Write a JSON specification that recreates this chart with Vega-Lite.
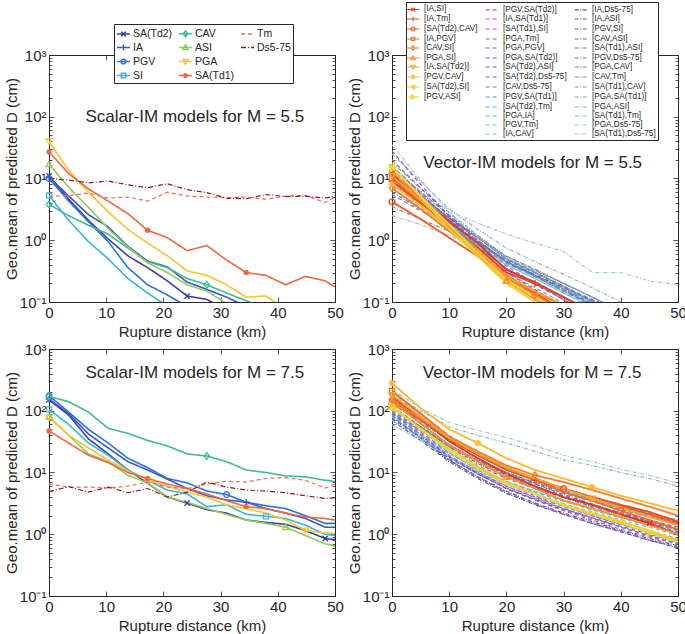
{
"$schema":"https://vega.github.io/schema/vega-lite/v6.json",
"padding":{"left":3,"top":1,"right":5,"bottom":5},
"config":{"font":"Liberation Sans","view":{"stroke":"#262626","strokeWidth":1},
"axis":{"labelFont":"Liberation Sans","titleFont":"Liberation Sans","labelColor":"#262626","titleColor":"#262626","titleFontWeight":"normal","labelFontSize":15,"titleFontSize":15,"tickColor":"#262626","domainColor":"#262626","grid":false,"labelFlush":false,"labelOverlap":false,"tickWidth":0.8}},
"columns":2,"spacing":{"row":47,"column":57},"bounds":"flush",
"resolve":{"scale":{"color":"independent","shape":"independent","strokeDash":"independent"},"legend":{"color":"independent","shape":"independent","strokeDash":"independent"}},
"datasets":{
"s55":[
{"s":"SA(Td2)","x":0,"y":11},{"s":"SA(Td2)","x":3.45,"y":4.6},{"s":"SA(Td2)","x":6.9,"y":2.1},{"s":"SA(Td2)","x":10.34,"y":1.05},{"s":"SA(Td2)","x":13.79,"y":0.56},{"s":"SA(Td2)","x":17.24,"y":0.36},{"s":"SA(Td2)","x":20.69,"y":0.22},{"s":"SA(Td2)","x":24.14,"y":0.125},{"s":"SA(Td2)","x":27.59,"y":0.11},{"s":"SA(Td2)","x":31.03,"y":0.075},{"s":"SA(Td2)","x":34.48,"y":0.055},{"s":"SA(Td2)","x":37.93,"y":0.04},{"s":"SA(Td2)","x":41.38,"y":0.03},{"s":"SA(Td2)","x":44.83,"y":0.022},{"s":"SA(Td2)","x":48.28,"y":0.017},{"s":"SA(Td2)","x":51.72,"y":0.013},
{"s":"IA","x":0,"y":10.5},{"s":"IA","x":3.45,"y":5.2},{"s":"IA","x":6.9,"y":2.6},{"s":"IA","x":10.34,"y":1.65},{"s":"IA","x":13.79,"y":0.8},{"s":"IA","x":17.24,"y":0.46},{"s":"IA","x":20.69,"y":0.37},{"s":"IA","x":24.14,"y":0.21},{"s":"IA","x":27.59,"y":0.16},{"s":"IA","x":31.03,"y":0.12},{"s":"IA","x":34.48,"y":0.085},{"s":"IA","x":37.93,"y":0.06},{"s":"IA","x":41.38,"y":0.045},{"s":"IA","x":44.83,"y":0.035},{"s":"IA","x":48.28,"y":0.026},{"s":"IA","x":51.72,"y":0.02},
{"s":"PGV","x":0,"y":10},{"s":"PGV","x":3.45,"y":4.3},{"s":"PGV","x":6.9,"y":2.0},{"s":"PGV","x":10.34,"y":0.95},{"s":"PGV","x":13.79,"y":0.36},{"s":"PGV","x":17.24,"y":0.19},{"s":"PGV","x":20.69,"y":0.13},{"s":"PGV","x":24.14,"y":0.085},{"s":"PGV","x":27.59,"y":0.06},{"s":"PGV","x":31.03,"y":0.045},{"s":"PGV","x":34.48,"y":0.032},{"s":"PGV","x":37.93,"y":0.023},{"s":"PGV","x":41.38,"y":0.017},{"s":"PGV","x":44.83,"y":0.012},{"s":"PGV","x":48.28,"y":0.009},{"s":"PGV","x":51.72,"y":0.007},
{"s":"SI","x":0,"y":5.3},{"s":"SI","x":3.45,"y":2.1},{"s":"SI","x":6.9,"y":0.95},{"s":"SI","x":10.34,"y":0.5},{"s":"SI","x":13.79,"y":0.24},{"s":"SI","x":17.24,"y":0.14},{"s":"SI","x":20.69,"y":0.085},{"s":"SI","x":24.14,"y":0.055},{"s":"SI","x":27.59,"y":0.038},{"s":"SI","x":31.03,"y":0.027},{"s":"SI","x":34.48,"y":0.019},{"s":"SI","x":37.93,"y":0.014},{"s":"SI","x":41.38,"y":0.01},{"s":"SI","x":44.83,"y":0.008},{"s":"SI","x":48.28,"y":0.006},{"s":"SI","x":51.72,"y":0.005},
{"s":"CAV","x":0,"y":3.8},{"s":"CAV","x":3.45,"y":2.5},{"s":"CAV","x":6.9,"y":1.75},{"s":"CAV","x":10.34,"y":1.25},{"s":"CAV","x":13.79,"y":0.75},{"s":"CAV","x":17.24,"y":0.45},{"s":"CAV","x":20.69,"y":0.36},{"s":"CAV","x":24.14,"y":0.24},{"s":"CAV","x":27.59,"y":0.19},{"s":"CAV","x":31.03,"y":0.14},{"s":"CAV","x":34.48,"y":0.105},{"s":"CAV","x":37.93,"y":0.075},{"s":"CAV","x":41.38,"y":0.055},{"s":"CAV","x":44.83,"y":0.04},{"s":"CAV","x":48.28,"y":0.03},{"s":"CAV","x":51.72,"y":0.022},
{"s":"ASI","x":0,"y":17},{"s":"ASI","x":3.45,"y":7.2},{"s":"ASI","x":6.9,"y":3.4},{"s":"ASI","x":10.34,"y":1.55},{"s":"ASI","x":13.79,"y":0.78},{"s":"ASI","x":17.24,"y":0.43},{"s":"ASI","x":20.69,"y":0.3},{"s":"ASI","x":24.14,"y":0.19},{"s":"ASI","x":27.59,"y":0.15},{"s":"ASI","x":31.03,"y":0.095},{"s":"ASI","x":34.48,"y":0.07},{"s":"ASI","x":37.93,"y":0.05},{"s":"ASI","x":41.38,"y":0.038},{"s":"ASI","x":44.83,"y":0.028},{"s":"ASI","x":48.28,"y":0.02},{"s":"ASI","x":51.72,"y":0.015},
{"s":"PGA","x":0,"y":40},{"s":"PGA","x":3.45,"y":13.5},{"s":"PGA","x":6.9,"y":6.0},{"s":"PGA","x":10.34,"y":2.9},{"s":"PGA","x":13.79,"y":1.5},{"s":"PGA","x":17.24,"y":0.9},{"s":"PGA","x":20.69,"y":0.56},{"s":"PGA","x":24.14,"y":0.32},{"s":"PGA","x":27.59,"y":0.27},{"s":"PGA","x":31.03,"y":0.19},{"s":"PGA","x":34.48,"y":0.12},{"s":"PGA","x":37.93,"y":0.125},{"s":"PGA","x":41.38,"y":0.075},{"s":"PGA","x":44.83,"y":0.055},{"s":"PGA","x":48.28,"y":0.04},{"s":"PGA","x":51.72,"y":0.03},
{"s":"SA(Td1)","x":0,"y":27},{"s":"SA(Td1)","x":3.45,"y":12},{"s":"SA(Td1)","x":6.9,"y":6.8},{"s":"SA(Td1)","x":10.34,"y":4.3},{"s":"SA(Td1)","x":13.79,"y":2.7},{"s":"SA(Td1)","x":17.24,"y":1.45},{"s":"SA(Td1)","x":20.69,"y":1.1},{"s":"SA(Td1)","x":24.14,"y":0.68},{"s":"SA(Td1)","x":27.59,"y":0.82},{"s":"SA(Td1)","x":31.03,"y":0.48},{"s":"SA(Td1)","x":34.48,"y":0.3},{"s":"SA(Td1)","x":37.93,"y":0.27},{"s":"SA(Td1)","x":41.38,"y":0.19},{"s":"SA(Td1)","x":44.83,"y":0.26},{"s":"SA(Td1)","x":48.28,"y":0.22},{"s":"SA(Td1)","x":51.72,"y":0.14},
{"s":"Tm","x":0,"y":5.1},{"s":"Tm","x":3.45,"y":5.3},{"s":"Tm","x":6.9,"y":5.8},{"s":"Tm","x":10.34,"y":4.8},{"s":"Tm","x":13.79,"y":5.0},{"s":"Tm","x":17.24,"y":4.3},{"s":"Tm","x":20.69,"y":6.0},{"s":"Tm","x":24.14,"y":5.2},{"s":"Tm","x":27.59,"y":5.0},{"s":"Tm","x":31.03,"y":4.9},{"s":"Tm","x":34.48,"y":5.0},{"s":"Tm","x":37.93,"y":4.6},{"s":"Tm","x":41.38,"y":5.2},{"s":"Tm","x":44.83,"y":5.3},{"s":"Tm","x":48.28,"y":4.1},{"s":"Tm","x":51.72,"y":6.0},
{"s":"Ds5-75","x":0,"y":10},{"s":"Ds5-75","x":3.45,"y":9.4},{"s":"Ds5-75","x":6.9,"y":8.5},{"s":"Ds5-75","x":10.34,"y":9.1},{"s":"Ds5-75","x":13.79,"y":7.9},{"s":"Ds5-75","x":17.24,"y":7.1},{"s":"Ds5-75","x":20.69,"y":8.2},{"s":"Ds5-75","x":24.14,"y":6.6},{"s":"Ds5-75","x":27.59,"y":5.9},{"s":"Ds5-75","x":31.03,"y":4.8},{"s":"Ds5-75","x":34.48,"y":4.7},{"s":"Ds5-75","x":37.93,"y":5.5},{"s":"Ds5-75","x":41.38,"y":5.1},{"s":"Ds5-75","x":44.83,"y":5.2},{"s":"Ds5-75","x":48.28,"y":4.8},{"s":"Ds5-75","x":51.72,"y":5.6}
],
"s75":[
{"s":"SA(Td2)","x":0,"y":150},{"s":"SA(Td2)","x":3.45,"y":85},{"s":"SA(Td2)","x":6.9,"y":35},{"s":"SA(Td2)","x":10.34,"y":20},{"s":"SA(Td2)","x":13.79,"y":11},{"s":"SA(Td2)","x":17.24,"y":6.7},{"s":"SA(Td2)","x":20.69,"y":4.0},{"s":"SA(Td2)","x":24.14,"y":3.2},{"s":"SA(Td2)","x":27.59,"y":2.5},{"s":"SA(Td2)","x":31.03,"y":2.2},{"s":"SA(Td2)","x":34.48,"y":1.7},{"s":"SA(Td2)","x":37.93,"y":1.55},{"s":"SA(Td2)","x":41.38,"y":1.45},{"s":"SA(Td2)","x":44.83,"y":1.15},{"s":"SA(Td2)","x":48.28,"y":0.85},{"s":"SA(Td2)","x":51.72,"y":0.8},
{"s":"IA","x":0,"y":155},{"s":"IA","x":3.45,"y":90},{"s":"IA","x":6.9,"y":42},{"s":"IA","x":10.34,"y":25},{"s":"IA","x":13.79,"y":15},{"s":"IA","x":17.24,"y":11},{"s":"IA","x":20.69,"y":7.8},{"s":"IA","x":24.14,"y":5.5},{"s":"IA","x":27.59,"y":4.2},{"s":"IA","x":31.03,"y":3.6},{"s":"IA","x":34.48,"y":3.3},{"s":"IA","x":37.93,"y":2.6},{"s":"IA","x":41.38,"y":2.2},{"s":"IA","x":44.83,"y":1.8},{"s":"IA","x":48.28,"y":1.3},{"s":"IA","x":51.72,"y":1.3},
{"s":"PGV","x":0,"y":175},{"s":"PGV","x":3.45,"y":95},{"s":"PGV","x":6.9,"y":50},{"s":"PGV","x":10.34,"y":30},{"s":"PGV","x":13.79,"y":17},{"s":"PGV","x":17.24,"y":12},{"s":"PGV","x":20.69,"y":8.0},{"s":"PGV","x":24.14,"y":6.8},{"s":"PGV","x":27.59,"y":5.0},{"s":"PGV","x":31.03,"y":4.4},{"s":"PGV","x":34.48,"y":3.3},{"s":"PGV","x":37.93,"y":2.9},{"s":"PGV","x":41.38,"y":2.6},{"s":"PGV","x":44.83,"y":2.0},{"s":"PGV","x":48.28,"y":1.5},{"s":"PGV","x":51.72,"y":1.5},
{"s":"SI","x":0,"y":105},{"s":"SI","x":3.45,"y":60},{"s":"SI","x":6.9,"y":30},{"s":"SI","x":10.34,"y":19},{"s":"SI","x":13.79,"y":11},{"s":"SI","x":17.24,"y":7.5},{"s":"SI","x":20.69,"y":5.2},{"s":"SI","x":24.14,"y":4.5},{"s":"SI","x":27.59,"y":2.8},{"s":"SI","x":31.03,"y":3.0},{"s":"SI","x":34.48,"y":2.1},{"s":"SI","x":37.93,"y":1.95},{"s":"SI","x":41.38,"y":1.8},{"s":"SI","x":44.83,"y":1.4},{"s":"SI","x":48.28,"y":1.0},{"s":"SI","x":51.72,"y":0.9},
{"s":"CAV","x":0,"y":170},{"s":"CAV","x":3.45,"y":140},{"s":"CAV","x":6.9,"y":95},{"s":"CAV","x":10.34,"y":52},{"s":"CAV","x":13.79,"y":43},{"s":"CAV","x":17.24,"y":33},{"s":"CAV","x":20.69,"y":27},{"s":"CAV","x":24.14,"y":20},{"s":"CAV","x":27.59,"y":18.5},{"s":"CAV","x":31.03,"y":15},{"s":"CAV","x":34.48,"y":11},{"s":"CAV","x":37.93,"y":10},{"s":"CAV","x":41.38,"y":8.8},{"s":"CAV","x":44.83,"y":8.5},{"s":"CAV","x":48.28,"y":7.5},{"s":"CAV","x":51.72,"y":6.8},
{"s":"ASI","x":0,"y":80},{"s":"ASI","x":3.45,"y":40},{"s":"ASI","x":6.9,"y":20},{"s":"ASI","x":10.34,"y":15},{"s":"ASI","x":13.79,"y":9},{"s":"ASI","x":17.24,"y":6.8},{"s":"ASI","x":20.69,"y":4.0},{"s":"ASI","x":24.14,"y":3.3},{"s":"ASI","x":27.59,"y":2.6},{"s":"ASI","x":31.03,"y":2.1},{"s":"ASI","x":34.48,"y":1.7},{"s":"ASI","x":37.93,"y":1.5},{"s":"ASI","x":41.38,"y":1.3},{"s":"ASI","x":44.83,"y":0.95},{"s":"ASI","x":48.28,"y":0.7},{"s":"ASI","x":51.72,"y":0.6},
{"s":"PGA","x":0,"y":78},{"s":"PGA","x":3.45,"y":40},{"s":"PGA","x":6.9,"y":25},{"s":"PGA","x":10.34,"y":16},{"s":"PGA","x":13.79,"y":10.5},{"s":"PGA","x":17.24,"y":7.5},{"s":"PGA","x":20.69,"y":6.0},{"s":"PGA","x":24.14,"y":4.8},{"s":"PGA","x":27.59,"y":4.0},{"s":"PGA","x":31.03,"y":3.0},{"s":"PGA","x":34.48,"y":2.6},{"s":"PGA","x":37.93,"y":2.2},{"s":"PGA","x":41.38,"y":1.7},{"s":"PGA","x":44.83,"y":1.15},{"s":"PGA","x":48.28,"y":1.05},{"s":"PGA","x":51.72,"y":1.0},
{"s":"SA(Td1)","x":0,"y":47},{"s":"SA(Td1)","x":3.45,"y":30},{"s":"SA(Td1)","x":6.9,"y":19},{"s":"SA(Td1)","x":10.34,"y":14.5},{"s":"SA(Td1)","x":13.79,"y":10},{"s":"SA(Td1)","x":17.24,"y":8},{"s":"SA(Td1)","x":20.69,"y":6.5},{"s":"SA(Td1)","x":24.14,"y":5.5},{"s":"SA(Td1)","x":27.59,"y":4.5},{"s":"SA(Td1)","x":31.03,"y":3.5},{"s":"SA(Td1)","x":34.48,"y":2.8},{"s":"SA(Td1)","x":37.93,"y":2.6},{"s":"SA(Td1)","x":41.38,"y":2.2},{"s":"SA(Td1)","x":44.83,"y":1.9},{"s":"SA(Td1)","x":48.28,"y":1.8},{"s":"SA(Td1)","x":51.72,"y":1.6},
{"s":"Tm","x":0,"y":6.5},{"s":"Tm","x":3.45,"y":5.8},{"s":"Tm","x":6.9,"y":5.8},{"s":"Tm","x":10.34,"y":5.6},{"s":"Tm","x":13.79,"y":6.0},{"s":"Tm","x":17.24,"y":7.0},{"s":"Tm","x":20.69,"y":5.8},{"s":"Tm","x":24.14,"y":5.5},{"s":"Tm","x":27.59,"y":6.5},{"s":"Tm","x":31.03,"y":7.2},{"s":"Tm","x":34.48,"y":7.0},{"s":"Tm","x":37.93,"y":8.0},{"s":"Tm","x":41.38,"y":8.3},{"s":"Tm","x":44.83,"y":7.5},{"s":"Tm","x":48.28,"y":5.6},{"s":"Tm","x":51.72,"y":7.5},
{"s":"Ds5-75","x":0,"y":4.9},{"s":"Ds5-75","x":3.45,"y":5.9},{"s":"Ds5-75","x":6.9,"y":4.8},{"s":"Ds5-75","x":10.34,"y":5.8},{"s":"Ds5-75","x":13.79,"y":4.7},{"s":"Ds5-75","x":17.24,"y":5.5},{"s":"Ds5-75","x":20.69,"y":4.0},{"s":"Ds5-75","x":24.14,"y":4.8},{"s":"Ds5-75","x":27.59,"y":7.0},{"s":"Ds5-75","x":31.03,"y":5.8},{"s":"Ds5-75","x":34.48,"y":5.2},{"s":"Ds5-75","x":37.93,"y":5.0},{"s":"Ds5-75","x":41.38,"y":4.7},{"s":"Ds5-75","x":44.83,"y":4.2},{"s":"Ds5-75","x":48.28,"y":3.8},{"s":"Ds5-75","x":51.72,"y":4.0}
],
"v55":[
{"s":"[IA,Ds5-75]","x":0,"y":10},{"s":"[IA,Ds5-75]","x":5,"y":5.0},{"s":"[IA,Ds5-75]","x":10,"y":2.3},{"s":"[IA,Ds5-75]","x":15,"y":1.1},{"s":"[IA,Ds5-75]","x":20,"y":0.5},{"s":"[IA,Ds5-75]","x":25,"y":0.3},{"s":"[IA,Ds5-75]","x":30,"y":0.18},{"s":"[IA,Ds5-75]","x":35,"y":0.1},{"s":"[IA,Ds5-75]","x":40,"y":0.06},{"s":"[IA,Ds5-75]","x":45,"y":0.035},{"s":"[IA,Ds5-75]","x":50,"y":0.02},
{"s":"[IA,ASI]","x":0,"y":12},{"s":"[IA,ASI]","x":5,"y":5.4},{"s":"[IA,ASI]","x":10,"y":2.3},{"s":"[IA,ASI]","x":15,"y":1.0},{"s":"[IA,ASI]","x":20,"y":0.45},{"s":"[IA,ASI]","x":25,"y":0.27},{"s":"[IA,ASI]","x":30,"y":0.16},{"s":"[IA,ASI]","x":35,"y":0.09},{"s":"[IA,ASI]","x":40,"y":0.05},{"s":"[IA,ASI]","x":45,"y":0.03},{"s":"[IA,ASI]","x":50,"y":0.018},
{"s":"[PGV,SI]","x":0,"y":8},{"s":"[PGV,SI]","x":5,"y":3.9},{"s":"[PGV,SI]","x":10,"y":1.9},{"s":"[PGV,SI]","x":15,"y":0.92},{"s":"[PGV,SI]","x":20,"y":0.44},{"s":"[PGV,SI]","x":25,"y":0.26},{"s":"[PGV,SI]","x":30,"y":0.15},{"s":"[PGV,SI]","x":35,"y":0.088},{"s":"[PGV,SI]","x":40,"y":0.05},{"s":"[PGV,SI]","x":45,"y":0.03},{"s":"[PGV,SI]","x":50,"y":0.017},
{"s":"[CAV,ASI]","x":0,"y":6},{"s":"[CAV,ASI]","x":5,"y":3.2},{"s":"[CAV,ASI]","x":10,"y":1.7},{"s":"[CAV,ASI]","x":15,"y":0.9},{"s":"[CAV,ASI]","x":20,"y":0.46},{"s":"[CAV,ASI]","x":25,"y":0.28},{"s":"[CAV,ASI]","x":30,"y":0.17},{"s":"[CAV,ASI]","x":35,"y":0.1},{"s":"[CAV,ASI]","x":40,"y":0.06},{"s":"[CAV,ASI]","x":45,"y":0.035},{"s":"[CAV,ASI]","x":50,"y":0.021},
{"s":"[SA(Td1),ASI]","x":0,"y":14},{"s":"[SA(Td1),ASI]","x":5,"y":6.0},{"s":"[SA(Td1),ASI]","x":10,"y":2.5},{"s":"[SA(Td1),ASI]","x":15,"y":1.1},{"s":"[SA(Td1),ASI]","x":20,"y":0.5},{"s":"[SA(Td1),ASI]","x":25,"y":0.3},{"s":"[SA(Td1),ASI]","x":30,"y":0.18},{"s":"[SA(Td1),ASI]","x":35,"y":0.105},{"s":"[SA(Td1),ASI]","x":40,"y":0.062},{"s":"[SA(Td1),ASI]","x":45,"y":0.036},{"s":"[SA(Td1),ASI]","x":50,"y":0.021},
{"s":"[PGV,Ds5-75]","x":0,"y":9},{"s":"[PGV,Ds5-75]","x":5,"y":4.6},{"s":"[PGV,Ds5-75]","x":10,"y":2.3},{"s":"[PGV,Ds5-75]","x":15,"y":1.15},{"s":"[PGV,Ds5-75]","x":20,"y":0.55},{"s":"[PGV,Ds5-75]","x":25,"y":0.34},{"s":"[PGV,Ds5-75]","x":30,"y":0.2},{"s":"[PGV,Ds5-75]","x":35,"y":0.12},{"s":"[PGV,Ds5-75]","x":40,"y":0.07},{"s":"[PGV,Ds5-75]","x":45,"y":0.04},{"s":"[PGV,Ds5-75]","x":50,"y":0.024},
{"s":"[PGA,CAV]","x":0,"y":12},{"s":"[PGA,CAV]","x":5,"y":5.0},{"s":"[PGA,CAV]","x":10,"y":2.1},{"s":"[PGA,CAV]","x":15,"y":0.95},{"s":"[PGA,CAV]","x":20,"y":0.43},{"s":"[PGA,CAV]","x":25,"y":0.26},{"s":"[PGA,CAV]","x":30,"y":0.15},{"s":"[PGA,CAV]","x":35,"y":0.09},{"s":"[PGA,CAV]","x":40,"y":0.05},{"s":"[PGA,CAV]","x":45,"y":0.03},{"s":"[PGA,CAV]","x":50,"y":0.018},
{"s":"[CAV,Tm]","x":0,"y":3.5},{"s":"[CAV,Tm]","x":5,"y":2.2},{"s":"[CAV,Tm]","x":10,"y":1.4},{"s":"[CAV,Tm]","x":15,"y":0.85},{"s":"[CAV,Tm]","x":20,"y":0.5},{"s":"[CAV,Tm]","x":25,"y":0.32},{"s":"[CAV,Tm]","x":30,"y":0.2},{"s":"[CAV,Tm]","x":35,"y":0.12},{"s":"[CAV,Tm]","x":40,"y":0.072},{"s":"[CAV,Tm]","x":45,"y":0.043},{"s":"[CAV,Tm]","x":50,"y":0.026},
{"s":"[SA(Td1),CAV]","x":0,"y":8},{"s":"[SA(Td1),CAV]","x":5,"y":4.2},{"s":"[SA(Td1),CAV]","x":10,"y":2.1},{"s":"[SA(Td1),CAV]","x":15,"y":1.1},{"s":"[SA(Td1),CAV]","x":20,"y":0.55},{"s":"[SA(Td1),CAV]","x":25,"y":0.33},{"s":"[SA(Td1),CAV]","x":30,"y":0.2},{"s":"[SA(Td1),CAV]","x":35,"y":0.12},{"s":"[SA(Td1),CAV]","x":40,"y":0.07},{"s":"[SA(Td1),CAV]","x":45,"y":0.042},{"s":"[SA(Td1),CAV]","x":50,"y":0.025},
{"s":"[PGA,SA(Td1)]","x":0,"y":18},{"s":"[PGA,SA(Td1)]","x":5,"y":7.0},{"s":"[PGA,SA(Td1)]","x":10,"y":2.8},{"s":"[PGA,SA(Td1)]","x":15,"y":1.2},{"s":"[PGA,SA(Td1)]","x":20,"y":0.52},{"s":"[PGA,SA(Td1)]","x":25,"y":0.3},{"s":"[PGA,SA(Td1)]","x":30,"y":0.18},{"s":"[PGA,SA(Td1)]","x":35,"y":0.1},{"s":"[PGA,SA(Td1)]","x":40,"y":0.06},{"s":"[PGA,SA(Td1)]","x":45,"y":0.035},{"s":"[PGA,SA(Td1)]","x":50,"y":0.02},
{"s":"[PGA,ASI]","x":0,"y":15},{"s":"[PGA,ASI]","x":5,"y":6.2},{"s":"[PGA,ASI]","x":10,"y":2.6},{"s":"[PGA,ASI]","x":15,"y":1.15},{"s":"[PGA,ASI]","x":20,"y":0.5},{"s":"[PGA,ASI]","x":25,"y":0.3},{"s":"[PGA,ASI]","x":30,"y":0.17},{"s":"[PGA,ASI]","x":35,"y":0.1},{"s":"[PGA,ASI]","x":40,"y":0.058},{"s":"[PGA,ASI]","x":45,"y":0.034},{"s":"[PGA,ASI]","x":50,"y":0.02},
{"s":"[SA(Td1),Tm]","x":0,"y":25},{"s":"[SA(Td1),Tm]","x":5,"y":9.0},{"s":"[SA(Td1),Tm]","x":10,"y":3.2},{"s":"[SA(Td1),Tm]","x":15,"y":1.5},{"s":"[SA(Td1),Tm]","x":20,"y":0.75},{"s":"[SA(Td1),Tm]","x":25,"y":0.45},{"s":"[SA(Td1),Tm]","x":30,"y":0.28},{"s":"[SA(Td1),Tm]","x":35,"y":0.17},{"s":"[SA(Td1),Tm]","x":40,"y":0.1},{"s":"[SA(Td1),Tm]","x":45,"y":0.065},{"s":"[SA(Td1),Tm]","x":50,"y":0.042},
{"s":"[PGA,Ds5-75]","x":0,"y":2.5},{"s":"[PGA,Ds5-75]","x":5,"y":1.8},{"s":"[PGA,Ds5-75]","x":10,"y":1.2},{"s":"[PGA,Ds5-75]","x":15,"y":0.75},{"s":"[PGA,Ds5-75]","x":20,"y":0.45},{"s":"[PGA,Ds5-75]","x":25,"y":0.3},{"s":"[PGA,Ds5-75]","x":30,"y":0.18},{"s":"[PGA,Ds5-75]","x":35,"y":0.11},{"s":"[PGA,Ds5-75]","x":40,"y":0.07},{"s":"[PGA,Ds5-75]","x":45,"y":0.045},{"s":"[PGA,Ds5-75]","x":50,"y":0.028},
{"s":"[SA(Td1),Ds5-75]","x":0,"y":35},{"s":"[SA(Td1),Ds5-75]","x":5,"y":9.5},{"s":"[SA(Td1),Ds5-75]","x":10,"y":2.9},{"s":"[SA(Td1),Ds5-75]","x":15,"y":1.9},{"s":"[SA(Td1),Ds5-75]","x":20,"y":1.25},{"s":"[SA(Td1),Ds5-75]","x":25,"y":0.9},{"s":"[SA(Td1),Ds5-75]","x":30,"y":0.66},{"s":"[SA(Td1),Ds5-75]","x":35,"y":0.3},{"s":"[SA(Td1),Ds5-75]","x":40,"y":0.3},{"s":"[SA(Td1),Ds5-75]","x":45,"y":0.22},{"s":"[SA(Td1),Ds5-75]","x":50,"y":0.19},
{"s":"[PGV,SA(Td2)]","x":0,"y":12},{"s":"[PGV,SA(Td2)]","x":5,"y":4.5},{"s":"[PGV,SA(Td2)]","x":10,"y":1.7},{"s":"[PGV,SA(Td2)]","x":15,"y":0.65},{"s":"[PGV,SA(Td2)]","x":20,"y":0.24},{"s":"[PGV,SA(Td2)]","x":25,"y":0.12},{"s":"[PGV,SA(Td2)]","x":30,"y":0.06},{"s":"[PGV,SA(Td2)]","x":35,"y":0.03},{"s":"[PGV,SA(Td2)]","x":40,"y":0.016},{"s":"[PGV,SA(Td2)]","x":45,"y":0.009},{"s":"[PGV,SA(Td2)]","x":50,"y":0.005},
{"s":"[IA,SA(Td1)]","x":0,"y":14},{"s":"[IA,SA(Td1)]","x":5,"y":5.5},{"s":"[IA,SA(Td1)]","x":10,"y":2.2},{"s":"[IA,SA(Td1)]","x":15,"y":0.9},{"s":"[IA,SA(Td1)]","x":20,"y":0.38},{"s":"[IA,SA(Td1)]","x":25,"y":0.2},{"s":"[IA,SA(Td1)]","x":30,"y":0.11},{"s":"[IA,SA(Td1)]","x":35,"y":0.06},{"s":"[IA,SA(Td1)]","x":40,"y":0.033},{"s":"[IA,SA(Td1)]","x":45,"y":0.018},{"s":"[IA,SA(Td1)]","x":50,"y":0.01},
{"s":"[SA(Td1),SI]","x":0,"y":9},{"s":"[SA(Td1),SI]","x":5,"y":4.0},{"s":"[SA(Td1),SI]","x":10,"y":1.8},{"s":"[SA(Td1),SI]","x":15,"y":0.8},{"s":"[SA(Td1),SI]","x":20,"y":0.35},{"s":"[SA(Td1),SI]","x":25,"y":0.19},{"s":"[SA(Td1),SI]","x":30,"y":0.11},{"s":"[SA(Td1),SI]","x":35,"y":0.06},{"s":"[SA(Td1),SI]","x":40,"y":0.034},{"s":"[SA(Td1),SI]","x":45,"y":0.019},{"s":"[SA(Td1),SI]","x":50,"y":0.011},
{"s":"[PGA,Tm]","x":0,"y":20},{"s":"[PGA,Tm]","x":5,"y":7.0},{"s":"[PGA,Tm]","x":10,"y":2.5},{"s":"[PGA,Tm]","x":15,"y":1.0},{"s":"[PGA,Tm]","x":20,"y":0.45},{"s":"[PGA,Tm]","x":25,"y":0.27},{"s":"[PGA,Tm]","x":30,"y":0.17},{"s":"[PGA,Tm]","x":35,"y":0.11},{"s":"[PGA,Tm]","x":40,"y":0.07},{"s":"[PGA,Tm]","x":45,"y":0.045},{"s":"[PGA,Tm]","x":50,"y":0.03},
{"s":"[PGA,PGV]","x":0,"y":28},{"s":"[PGA,PGV]","x":5,"y":8.0},{"s":"[PGA,PGV]","x":10,"y":2.4},{"s":"[PGA,PGV]","x":15,"y":0.8},{"s":"[PGA,PGV]","x":20,"y":0.28},{"s":"[PGA,PGV]","x":25,"y":0.13},{"s":"[PGA,PGV]","x":30,"y":0.065},{"s":"[PGA,PGV]","x":35,"y":0.032},{"s":"[PGA,PGV]","x":40,"y":0.016},{"s":"[PGA,PGV]","x":45,"y":0.008},{"s":"[PGA,PGV]","x":50,"y":0.004},
{"s":"[PGA,SA(Td2)]","x":0,"y":16},{"s":"[PGA,SA(Td2)]","x":5,"y":5.8},{"s":"[PGA,SA(Td2)]","x":10,"y":2.1},{"s":"[PGA,SA(Td2)]","x":15,"y":0.8},{"s":"[PGA,SA(Td2)]","x":20,"y":0.3},{"s":"[PGA,SA(Td2)]","x":25,"y":0.16},{"s":"[PGA,SA(Td2)]","x":30,"y":0.085},{"s":"[PGA,SA(Td2)]","x":35,"y":0.045},{"s":"[PGA,SA(Td2)]","x":40,"y":0.024},{"s":"[PGA,SA(Td2)]","x":45,"y":0.013},{"s":"[PGA,SA(Td2)]","x":50,"y":0.007},
{"s":"[SA(Td2),ASI]","x":0,"y":13},{"s":"[SA(Td2),ASI]","x":5,"y":5.0},{"s":"[SA(Td2),ASI]","x":10,"y":2.0},{"s":"[SA(Td2),ASI]","x":15,"y":0.8},{"s":"[SA(Td2),ASI]","x":20,"y":0.34},{"s":"[SA(Td2),ASI]","x":25,"y":0.2},{"s":"[SA(Td2),ASI]","x":30,"y":0.12},{"s":"[SA(Td2),ASI]","x":35,"y":0.07},{"s":"[SA(Td2),ASI]","x":40,"y":0.04},{"s":"[SA(Td2),ASI]","x":45,"y":0.022},{"s":"[SA(Td2),ASI]","x":50,"y":0.012},
{"s":"[SA(Td2),Ds5-75]","x":0,"y":10},{"s":"[SA(Td2),Ds5-75]","x":5,"y":4.6},{"s":"[SA(Td2),Ds5-75]","x":10,"y":2.1},{"s":"[SA(Td2),Ds5-75]","x":15,"y":0.95},{"s":"[SA(Td2),Ds5-75]","x":20,"y":0.45},{"s":"[SA(Td2),Ds5-75]","x":25,"y":0.27},{"s":"[SA(Td2),Ds5-75]","x":30,"y":0.16},{"s":"[SA(Td2),Ds5-75]","x":35,"y":0.095},{"s":"[SA(Td2),Ds5-75]","x":40,"y":0.055},{"s":"[SA(Td2),Ds5-75]","x":45,"y":0.032},{"s":"[SA(Td2),Ds5-75]","x":50,"y":0.019},
{"s":"[CAV,Ds5-75]","x":0,"y":5.5},{"s":"[CAV,Ds5-75]","x":5,"y":3.0},{"s":"[CAV,Ds5-75]","x":10,"y":1.7},{"s":"[CAV,Ds5-75]","x":15,"y":0.9},{"s":"[CAV,Ds5-75]","x":20,"y":0.48},{"s":"[CAV,Ds5-75]","x":25,"y":0.3},{"s":"[CAV,Ds5-75]","x":30,"y":0.18},{"s":"[CAV,Ds5-75]","x":35,"y":0.105},{"s":"[CAV,Ds5-75]","x":40,"y":0.06},{"s":"[CAV,Ds5-75]","x":45,"y":0.035},{"s":"[CAV,Ds5-75]","x":50,"y":0.02},
{"s":"[PGV,SA(Td1)]","x":0,"y":11},{"s":"[PGV,SA(Td1)]","x":5,"y":4.6},{"s":"[PGV,SA(Td1)]","x":10,"y":1.9},{"s":"[PGV,SA(Td1)]","x":15,"y":0.8},{"s":"[PGV,SA(Td1)]","x":20,"y":0.35},{"s":"[PGV,SA(Td1)]","x":25,"y":0.2},{"s":"[PGV,SA(Td1)]","x":30,"y":0.11},{"s":"[PGV,SA(Td1)]","x":35,"y":0.06},{"s":"[PGV,SA(Td1)]","x":40,"y":0.034},{"s":"[PGV,SA(Td1)]","x":45,"y":0.019},{"s":"[PGV,SA(Td1)]","x":50,"y":0.011},
{"s":"[SA(Td2),Tm]","x":0,"y":9},{"s":"[SA(Td2),Tm]","x":5,"y":4.2},{"s":"[SA(Td2),Tm]","x":10,"y":1.9},{"s":"[SA(Td2),Tm]","x":15,"y":0.9},{"s":"[SA(Td2),Tm]","x":20,"y":0.42},{"s":"[SA(Td2),Tm]","x":25,"y":0.26},{"s":"[SA(Td2),Tm]","x":30,"y":0.16},{"s":"[SA(Td2),Tm]","x":35,"y":0.1},{"s":"[SA(Td2),Tm]","x":40,"y":0.06},{"s":"[SA(Td2),Tm]","x":45,"y":0.036},{"s":"[SA(Td2),Tm]","x":50,"y":0.022},
{"s":"[PGA,IA]","x":0,"y":14},{"s":"[PGA,IA]","x":5,"y":5.4},{"s":"[PGA,IA]","x":10,"y":2.0},{"s":"[PGA,IA]","x":15,"y":0.78},{"s":"[PGA,IA]","x":20,"y":0.3},{"s":"[PGA,IA]","x":25,"y":0.17},{"s":"[PGA,IA]","x":30,"y":0.095},{"s":"[PGA,IA]","x":35,"y":0.05},{"s":"[PGA,IA]","x":40,"y":0.028},{"s":"[PGA,IA]","x":45,"y":0.016},{"s":"[PGA,IA]","x":50,"y":0.009},
{"s":"[PGV,Tm]","x":0,"y":9},{"s":"[PGV,Tm]","x":5,"y":4.0},{"s":"[PGV,Tm]","x":10,"y":1.8},{"s":"[PGV,Tm]","x":15,"y":0.85},{"s":"[PGV,Tm]","x":20,"y":0.4},{"s":"[PGV,Tm]","x":25,"y":0.24},{"s":"[PGV,Tm]","x":30,"y":0.14},{"s":"[PGV,Tm]","x":35,"y":0.085},{"s":"[PGV,Tm]","x":40,"y":0.05},{"s":"[PGV,Tm]","x":45,"y":0.03},{"s":"[PGV,Tm]","x":50,"y":0.018},
{"s":"[IA,CAV]","x":0,"y":7},{"s":"[IA,CAV]","x":5,"y":3.4},{"s":"[IA,CAV]","x":10,"y":1.6},{"s":"[IA,CAV]","x":15,"y":0.8},{"s":"[IA,CAV]","x":20,"y":0.4},{"s":"[IA,CAV]","x":25,"y":0.24},{"s":"[IA,CAV]","x":30,"y":0.14},{"s":"[IA,CAV]","x":35,"y":0.08},{"s":"[IA,CAV]","x":40,"y":0.046},{"s":"[IA,CAV]","x":45,"y":0.027},{"s":"[IA,CAV]","x":50,"y":0.016},
{"s":"[IA,SI]","x":0,"y":12},{"s":"[IA,SI]","x":5,"y":4.8},{"s":"[IA,SI]","x":10,"y":2.0},{"s":"[IA,SI]","x":15,"y":0.9},{"s":"[IA,SI]","x":20,"y":0.33},{"s":"[IA,SI]","x":25,"y":0.21},{"s":"[IA,SI]","x":30,"y":0.12},{"s":"[IA,SI]","x":35,"y":0.065},{"s":"[IA,SI]","x":40,"y":0.035},{"s":"[IA,SI]","x":45,"y":0.02},{"s":"[IA,SI]","x":50,"y":0.012},
{"s":"[IA,Tm]","x":0,"y":9},{"s":"[IA,Tm]","x":5,"y":4.0},{"s":"[IA,Tm]","x":10,"y":1.7},{"s":"[IA,Tm]","x":15,"y":0.75},{"s":"[IA,Tm]","x":20,"y":0.3},{"s":"[IA,Tm]","x":25,"y":0.2},{"s":"[IA,Tm]","x":30,"y":0.12},{"s":"[IA,Tm]","x":35,"y":0.07},{"s":"[IA,Tm]","x":40,"y":0.04},{"s":"[IA,Tm]","x":45,"y":0.022},{"s":"[IA,Tm]","x":50,"y":0.013},
{"s":"[SA(Td2),CAV]","x":0,"y":4.2},{"s":"[SA(Td2),CAV]","x":5,"y":2.2},{"s":"[SA(Td2),CAV]","x":10,"y":1.1},{"s":"[SA(Td2),CAV]","x":15,"y":0.55},{"s":"[SA(Td2),CAV]","x":20,"y":0.25},{"s":"[SA(Td2),CAV]","x":25,"y":0.14},{"s":"[SA(Td2),CAV]","x":30,"y":0.075},{"s":"[SA(Td2),CAV]","x":35,"y":0.04},{"s":"[SA(Td2),CAV]","x":40,"y":0.02},{"s":"[SA(Td2),CAV]","x":45,"y":0.011},{"s":"[SA(Td2),CAV]","x":50,"y":0.006},
{"s":"[IA,PGV]","x":0,"y":10},{"s":"[IA,PGV]","x":5,"y":4.2},{"s":"[IA,PGV]","x":10,"y":1.6},{"s":"[IA,PGV]","x":15,"y":0.68},{"s":"[IA,PGV]","x":20,"y":0.27},{"s":"[IA,PGV]","x":25,"y":0.15},{"s":"[IA,PGV]","x":30,"y":0.085},{"s":"[IA,PGV]","x":35,"y":0.045},{"s":"[IA,PGV]","x":40,"y":0.025},{"s":"[IA,PGV]","x":45,"y":0.014},{"s":"[IA,PGV]","x":50,"y":0.008},
{"s":"[CAV,SI]","x":0,"y":7},{"s":"[CAV,SI]","x":5,"y":3.2},{"s":"[CAV,SI]","x":10,"y":1.4},{"s":"[CAV,SI]","x":15,"y":0.62},{"s":"[CAV,SI]","x":20,"y":0.25},{"s":"[CAV,SI]","x":25,"y":0.13},{"s":"[CAV,SI]","x":30,"y":0.07},{"s":"[CAV,SI]","x":35,"y":0.04},{"s":"[CAV,SI]","x":40,"y":0.022},{"s":"[CAV,SI]","x":45,"y":0.012},{"s":"[CAV,SI]","x":50,"y":0.007},
{"s":"[PGA,SI]","x":0,"y":13},{"s":"[PGA,SI]","x":5,"y":4.6},{"s":"[PGA,SI]","x":10,"y":1.6},{"s":"[PGA,SI]","x":15,"y":0.6},{"s":"[PGA,SI]","x":20,"y":0.22},{"s":"[PGA,SI]","x":25,"y":0.11},{"s":"[PGA,SI]","x":30,"y":0.06},{"s":"[PGA,SI]","x":35,"y":0.03},{"s":"[PGA,SI]","x":40,"y":0.016},{"s":"[PGA,SI]","x":45,"y":0.009},{"s":"[PGA,SI]","x":50,"y":0.005},
{"s":"[IA,SA(Td2)]","x":0,"y":11},{"s":"[IA,SA(Td2)]","x":5,"y":4.5},{"s":"[IA,SA(Td2)]","x":10,"y":1.7},{"s":"[IA,SA(Td2)]","x":15,"y":0.7},{"s":"[IA,SA(Td2)]","x":20,"y":0.26},{"s":"[IA,SA(Td2)]","x":25,"y":0.15},{"s":"[IA,SA(Td2)]","x":30,"y":0.09},{"s":"[IA,SA(Td2)]","x":35,"y":0.05},{"s":"[IA,SA(Td2)]","x":40,"y":0.028},{"s":"[IA,SA(Td2)]","x":45,"y":0.016},{"s":"[IA,SA(Td2)]","x":50,"y":0.009},
{"s":"[PGV,CAV]","x":0,"y":8},{"s":"[PGV,CAV]","x":5,"y":3.6},{"s":"[PGV,CAV]","x":10,"y":1.5},{"s":"[PGV,CAV]","x":15,"y":0.62},{"s":"[PGV,CAV]","x":20,"y":0.22},{"s":"[PGV,CAV]","x":25,"y":0.12},{"s":"[PGV,CAV]","x":30,"y":0.07},{"s":"[PGV,CAV]","x":35,"y":0.037},{"s":"[PGV,CAV]","x":40,"y":0.02},{"s":"[PGV,CAV]","x":45,"y":0.011},{"s":"[PGV,CAV]","x":50,"y":0.006},
{"s":"[SA(Td2),SI]","x":0,"y":16},{"s":"[SA(Td2),SI]","x":5,"y":5.0},{"s":"[SA(Td2),SI]","x":10,"y":1.5},{"s":"[SA(Td2),SI]","x":15,"y":0.55},{"s":"[SA(Td2),SI]","x":20,"y":0.2},{"s":"[SA(Td2),SI]","x":25,"y":0.1},{"s":"[SA(Td2),SI]","x":30,"y":0.05},{"s":"[SA(Td2),SI]","x":35,"y":0.025},{"s":"[SA(Td2),SI]","x":40,"y":0.013},{"s":"[SA(Td2),SI]","x":45,"y":0.007},{"s":"[SA(Td2),SI]","x":50,"y":0.004},
{"s":"[PGV,ASI]","x":0,"y":15},{"s":"[PGV,ASI]","x":5,"y":5.2},{"s":"[PGV,ASI]","x":10,"y":1.8},{"s":"[PGV,ASI]","x":15,"y":0.62},{"s":"[PGV,ASI]","x":20,"y":0.23},{"s":"[PGV,ASI]","x":25,"y":0.12},{"s":"[PGV,ASI]","x":30,"y":0.065},{"s":"[PGV,ASI]","x":35,"y":0.035},{"s":"[PGV,ASI]","x":40,"y":0.02},{"s":"[PGV,ASI]","x":45,"y":0.011},{"s":"[PGV,ASI]","x":50,"y":0.006}
],
"v75":[
{"s":"[IA,Ds5-75]","x":0,"y":70},{"s":"[IA,Ds5-75]","x":5,"y":33},{"s":"[IA,Ds5-75]","x":10,"y":15},{"s":"[IA,Ds5-75]","x":15,"y":8.0},{"s":"[IA,Ds5-75]","x":20,"y":4.6},{"s":"[IA,Ds5-75]","x":25,"y":3.0},{"s":"[IA,Ds5-75]","x":30,"y":2.1},{"s":"[IA,Ds5-75]","x":35,"y":1.5},{"s":"[IA,Ds5-75]","x":40,"y":1.1},{"s":"[IA,Ds5-75]","x":45,"y":0.8},{"s":"[IA,Ds5-75]","x":50,"y":0.6},
{"s":"[IA,ASI]","x":0,"y":80},{"s":"[IA,ASI]","x":5,"y":36},{"s":"[IA,ASI]","x":10,"y":16},{"s":"[IA,ASI]","x":15,"y":8.5},{"s":"[IA,ASI]","x":20,"y":5.0},{"s":"[IA,ASI]","x":25,"y":3.2},{"s":"[IA,ASI]","x":30,"y":2.2},{"s":"[IA,ASI]","x":35,"y":1.6},{"s":"[IA,ASI]","x":40,"y":1.15},{"s":"[IA,ASI]","x":45,"y":0.85},{"s":"[IA,ASI]","x":50,"y":0.65},
{"s":"[PGV,SI]","x":0,"y":120},{"s":"[PGV,SI]","x":5,"y":55},{"s":"[PGV,SI]","x":10,"y":26},{"s":"[PGV,SI]","x":15,"y":14},{"s":"[PGV,SI]","x":20,"y":8.5},{"s":"[PGV,SI]","x":25,"y":5.6},{"s":"[PGV,SI]","x":30,"y":3.9},{"s":"[PGV,SI]","x":35,"y":2.8},{"s":"[PGV,SI]","x":40,"y":2.0},{"s":"[PGV,SI]","x":45,"y":1.5},{"s":"[PGV,SI]","x":50,"y":1.1},
{"s":"[CAV,ASI]","x":0,"y":110},{"s":"[CAV,ASI]","x":5,"y":55},{"s":"[CAV,ASI]","x":10,"y":28},{"s":"[CAV,ASI]","x":15,"y":16},{"s":"[CAV,ASI]","x":20,"y":10},{"s":"[CAV,ASI]","x":25,"y":6.8},{"s":"[CAV,ASI]","x":30,"y":4.8},{"s":"[CAV,ASI]","x":35,"y":3.5},{"s":"[CAV,ASI]","x":40,"y":2.6},{"s":"[CAV,ASI]","x":45,"y":1.95},{"s":"[CAV,ASI]","x":50,"y":1.45},
{"s":"[SA(Td1),ASI]","x":0,"y":150},{"s":"[SA(Td1),ASI]","x":5,"y":70},{"s":"[SA(Td1),ASI]","x":10,"y":32},{"s":"[SA(Td1),ASI]","x":15,"y":17},{"s":"[SA(Td1),ASI]","x":20,"y":10},{"s":"[SA(Td1),ASI]","x":25,"y":6.5},{"s":"[SA(Td1),ASI]","x":30,"y":4.4},{"s":"[SA(Td1),ASI]","x":35,"y":3.1},{"s":"[SA(Td1),ASI]","x":40,"y":2.2},{"s":"[SA(Td1),ASI]","x":45,"y":1.6},{"s":"[SA(Td1),ASI]","x":50,"y":1.2},
{"s":"[PGV,Ds5-75]","x":0,"y":130},{"s":"[PGV,Ds5-75]","x":5,"y":65},{"s":"[PGV,Ds5-75]","x":10,"y":33},{"s":"[PGV,Ds5-75]","x":15,"y":19},{"s":"[PGV,Ds5-75]","x":20,"y":11.5},{"s":"[PGV,Ds5-75]","x":25,"y":7.8},{"s":"[PGV,Ds5-75]","x":30,"y":5.5},{"s":"[PGV,Ds5-75]","x":35,"y":4.0},{"s":"[PGV,Ds5-75]","x":40,"y":3.0},{"s":"[PGV,Ds5-75]","x":45,"y":2.2},{"s":"[PGV,Ds5-75]","x":50,"y":1.7},
{"s":"[PGA,CAV]","x":0,"y":140},{"s":"[PGA,CAV]","x":5,"y":62},{"s":"[PGA,CAV]","x":10,"y":28},{"s":"[PGA,CAV]","x":15,"y":15},{"s":"[PGA,CAV]","x":20,"y":8.8},{"s":"[PGA,CAV]","x":25,"y":5.8},{"s":"[PGA,CAV]","x":30,"y":4.0},{"s":"[PGA,CAV]","x":35,"y":2.9},{"s":"[PGA,CAV]","x":40,"y":2.1},{"s":"[PGA,CAV]","x":45,"y":1.55},{"s":"[PGA,CAV]","x":50,"y":1.15},
{"s":"[CAV,Tm]","x":0,"y":90},{"s":"[CAV,Tm]","x":5,"y":48},{"s":"[CAV,Tm]","x":10,"y":26},{"s":"[CAV,Tm]","x":15,"y":15.5},{"s":"[CAV,Tm]","x":20,"y":10},{"s":"[CAV,Tm]","x":25,"y":7.0},{"s":"[CAV,Tm]","x":30,"y":5.0},{"s":"[CAV,Tm]","x":35,"y":3.7},{"s":"[CAV,Tm]","x":40,"y":2.8},{"s":"[CAV,Tm]","x":45,"y":2.1},{"s":"[CAV,Tm]","x":50,"y":1.6},
{"s":"[SA(Td1),CAV]","x":0,"y":160},{"s":"[SA(Td1),CAV]","x":5,"y":75},{"s":"[SA(Td1),CAV]","x":10,"y":35},{"s":"[SA(Td1),CAV]","x":15,"y":19},{"s":"[SA(Td1),CAV]","x":20,"y":11.5},{"s":"[SA(Td1),CAV]","x":25,"y":7.5},{"s":"[SA(Td1),CAV]","x":30,"y":5.2},{"s":"[SA(Td1),CAV]","x":35,"y":3.7},{"s":"[SA(Td1),CAV]","x":40,"y":2.7},{"s":"[SA(Td1),CAV]","x":45,"y":2.0},{"s":"[SA(Td1),CAV]","x":50,"y":1.5},
{"s":"[PGA,SA(Td1)]","x":0,"y":200},{"s":"[PGA,SA(Td1)]","x":5,"y":90},{"s":"[PGA,SA(Td1)]","x":10,"y":40},{"s":"[PGA,SA(Td1)]","x":15,"y":21},{"s":"[PGA,SA(Td1)]","x":20,"y":12},{"s":"[PGA,SA(Td1)]","x":25,"y":7.8},{"s":"[PGA,SA(Td1)]","x":30,"y":5.3},{"s":"[PGA,SA(Td1)]","x":35,"y":3.8},{"s":"[PGA,SA(Td1)]","x":40,"y":2.7},{"s":"[PGA,SA(Td1)]","x":45,"y":1.95},{"s":"[PGA,SA(Td1)]","x":50,"y":1.45},
{"s":"[PGA,ASI]","x":0,"y":190},{"s":"[PGA,ASI]","x":5,"y":85},{"s":"[PGA,ASI]","x":10,"y":38},{"s":"[PGA,ASI]","x":15,"y":20},{"s":"[PGA,ASI]","x":20,"y":11.5},{"s":"[PGA,ASI]","x":25,"y":7.5},{"s":"[PGA,ASI]","x":30,"y":5.0},{"s":"[PGA,ASI]","x":35,"y":3.6},{"s":"[PGA,ASI]","x":40,"y":2.6},{"s":"[PGA,ASI]","x":45,"y":1.9},{"s":"[PGA,ASI]","x":50,"y":1.4},
{"s":"[SA(Td1),Tm]","x":0,"y":190},{"s":"[SA(Td1),Tm]","x":5,"y":100},{"s":"[SA(Td1),Tm]","x":10,"y":55},{"s":"[SA(Td1),Tm]","x":15,"y":40},{"s":"[SA(Td1),Tm]","x":20,"y":30},{"s":"[SA(Td1),Tm]","x":25,"y":22},{"s":"[SA(Td1),Tm]","x":30,"y":16},{"s":"[SA(Td1),Tm]","x":35,"y":13},{"s":"[SA(Td1),Tm]","x":40,"y":10},{"s":"[SA(Td1),Tm]","x":45,"y":8},{"s":"[SA(Td1),Tm]","x":50,"y":6},
{"s":"[PGA,Ds5-75]","x":0,"y":60},{"s":"[PGA,Ds5-75]","x":5,"y":33},{"s":"[PGA,Ds5-75]","x":10,"y":18},{"s":"[PGA,Ds5-75]","x":15,"y":11},{"s":"[PGA,Ds5-75]","x":20,"y":7.2},{"s":"[PGA,Ds5-75]","x":25,"y":5.0},{"s":"[PGA,Ds5-75]","x":30,"y":3.6},{"s":"[PGA,Ds5-75]","x":35,"y":2.7},{"s":"[PGA,Ds5-75]","x":40,"y":2.0},{"s":"[PGA,Ds5-75]","x":45,"y":1.5},{"s":"[PGA,Ds5-75]","x":50,"y":1.15},
{"s":"[SA(Td1),Ds5-75]","x":0,"y":220},{"s":"[SA(Td1),Ds5-75]","x":5,"y":110},{"s":"[SA(Td1),Ds5-75]","x":10,"y":65},{"s":"[SA(Td1),Ds5-75]","x":15,"y":48},{"s":"[SA(Td1),Ds5-75]","x":20,"y":37},{"s":"[SA(Td1),Ds5-75]","x":25,"y":27},{"s":"[SA(Td1),Ds5-75]","x":30,"y":19},{"s":"[SA(Td1),Ds5-75]","x":35,"y":15},{"s":"[SA(Td1),Ds5-75]","x":40,"y":11.3},{"s":"[SA(Td1),Ds5-75]","x":45,"y":9},{"s":"[SA(Td1),Ds5-75]","x":50,"y":6.7},
{"s":"[PGV,SA(Td2)]","x":0,"y":90},{"s":"[PGV,SA(Td2)]","x":5,"y":40},{"s":"[PGV,SA(Td2)]","x":10,"y":18},{"s":"[PGV,SA(Td2)]","x":15,"y":9.5},{"s":"[PGV,SA(Td2)]","x":20,"y":5.5},{"s":"[PGV,SA(Td2)]","x":25,"y":3.6},{"s":"[PGV,SA(Td2)]","x":30,"y":2.4},{"s":"[PGV,SA(Td2)]","x":35,"y":1.7},{"s":"[PGV,SA(Td2)]","x":40,"y":1.2},{"s":"[PGV,SA(Td2)]","x":45,"y":0.9},{"s":"[PGV,SA(Td2)]","x":50,"y":0.7},
{"s":"[IA,SA(Td1)]","x":0,"y":95},{"s":"[IA,SA(Td1)]","x":5,"y":45},{"s":"[IA,SA(Td1)]","x":10,"y":21},{"s":"[IA,SA(Td1)]","x":15,"y":11},{"s":"[IA,SA(Td1)]","x":20,"y":6.5},{"s":"[IA,SA(Td1)]","x":25,"y":4.2},{"s":"[IA,SA(Td1)]","x":30,"y":2.9},{"s":"[IA,SA(Td1)]","x":35,"y":2.0},{"s":"[IA,SA(Td1)]","x":40,"y":1.45},{"s":"[IA,SA(Td1)]","x":45,"y":1.05},{"s":"[IA,SA(Td1)]","x":50,"y":0.8},
{"s":"[SA(Td1),SI]","x":0,"y":80},{"s":"[SA(Td1),SI]","x":5,"y":38},{"s":"[SA(Td1),SI]","x":10,"y":18},{"s":"[SA(Td1),SI]","x":15,"y":10},{"s":"[SA(Td1),SI]","x":20,"y":6.0},{"s":"[SA(Td1),SI]","x":25,"y":4.0},{"s":"[SA(Td1),SI]","x":30,"y":2.8},{"s":"[SA(Td1),SI]","x":35,"y":2.0},{"s":"[SA(Td1),SI]","x":40,"y":1.45},{"s":"[SA(Td1),SI]","x":45,"y":1.05},{"s":"[SA(Td1),SI]","x":50,"y":0.8},
{"s":"[PGA,Tm]","x":0,"y":100},{"s":"[PGA,Tm]","x":5,"y":48},{"s":"[PGA,Tm]","x":10,"y":24},{"s":"[PGA,Tm]","x":15,"y":13},{"s":"[PGA,Tm]","x":20,"y":8.0},{"s":"[PGA,Tm]","x":25,"y":5.5},{"s":"[PGA,Tm]","x":30,"y":4.0},{"s":"[PGA,Tm]","x":35,"y":3.0},{"s":"[PGA,Tm]","x":40,"y":2.2},{"s":"[PGA,Tm]","x":45,"y":1.7},{"s":"[PGA,Tm]","x":50,"y":1.3},
{"s":"[PGA,PGV]","x":0,"y":85},{"s":"[PGA,PGV]","x":5,"y":36},{"s":"[PGA,PGV]","x":10,"y":16},{"s":"[PGA,PGV]","x":15,"y":8.5},{"s":"[PGA,PGV]","x":20,"y":4.8},{"s":"[PGA,PGV]","x":25,"y":3.1},{"s":"[PGA,PGV]","x":30,"y":2.1},{"s":"[PGA,PGV]","x":35,"y":1.5},{"s":"[PGA,PGV]","x":40,"y":1.1},{"s":"[PGA,PGV]","x":45,"y":0.8},{"s":"[PGA,PGV]","x":50,"y":0.62},
{"s":"[PGA,SA(Td2)]","x":0,"y":90},{"s":"[PGA,SA(Td2)]","x":5,"y":40},{"s":"[PGA,SA(Td2)]","x":10,"y":18},{"s":"[PGA,SA(Td2)]","x":15,"y":9.5},{"s":"[PGA,SA(Td2)]","x":20,"y":5.5},{"s":"[PGA,SA(Td2)]","x":25,"y":3.6},{"s":"[PGA,SA(Td2)]","x":30,"y":2.5},{"s":"[PGA,SA(Td2)]","x":35,"y":1.8},{"s":"[PGA,SA(Td2)]","x":40,"y":1.3},{"s":"[PGA,SA(Td2)]","x":45,"y":0.95},{"s":"[PGA,SA(Td2)]","x":50,"y":0.72},
{"s":"[SA(Td2),ASI]","x":0,"y":75},{"s":"[SA(Td2),ASI]","x":5,"y":36},{"s":"[SA(Td2),ASI]","x":10,"y":17},{"s":"[SA(Td2),ASI]","x":15,"y":9.5},{"s":"[SA(Td2),ASI]","x":20,"y":5.6},{"s":"[SA(Td2),ASI]","x":25,"y":3.7},{"s":"[SA(Td2),ASI]","x":30,"y":2.6},{"s":"[SA(Td2),ASI]","x":35,"y":1.85},{"s":"[SA(Td2),ASI]","x":40,"y":1.35},{"s":"[SA(Td2),ASI]","x":45,"y":1.0},{"s":"[SA(Td2),ASI]","x":50,"y":0.75},
{"s":"[SA(Td2),Ds5-75]","x":0,"y":110},{"s":"[SA(Td2),Ds5-75]","x":5,"y":55},{"s":"[SA(Td2),Ds5-75]","x":10,"y":27},{"s":"[SA(Td2),Ds5-75]","x":15,"y":15},{"s":"[SA(Td2),Ds5-75]","x":20,"y":9.0},{"s":"[SA(Td2),Ds5-75]","x":25,"y":6.0},{"s":"[SA(Td2),Ds5-75]","x":30,"y":4.2},{"s":"[SA(Td2),Ds5-75]","x":35,"y":3.0},{"s":"[SA(Td2),Ds5-75]","x":40,"y":2.2},{"s":"[SA(Td2),Ds5-75]","x":45,"y":1.6},{"s":"[SA(Td2),Ds5-75]","x":50,"y":1.2},
{"s":"[CAV,Ds5-75]","x":0,"y":100},{"s":"[CAV,Ds5-75]","x":5,"y":52},{"s":"[CAV,Ds5-75]","x":10,"y":27},{"s":"[CAV,Ds5-75]","x":15,"y":15.5},{"s":"[CAV,Ds5-75]","x":20,"y":9.5},{"s":"[CAV,Ds5-75]","x":25,"y":6.5},{"s":"[CAV,Ds5-75]","x":30,"y":4.6},{"s":"[CAV,Ds5-75]","x":35,"y":3.4},{"s":"[CAV,Ds5-75]","x":40,"y":2.5},{"s":"[CAV,Ds5-75]","x":45,"y":1.9},{"s":"[CAV,Ds5-75]","x":50,"y":1.45},
{"s":"[PGV,SA(Td1)]","x":0,"y":95},{"s":"[PGV,SA(Td1)]","x":5,"y":42},{"s":"[PGV,SA(Td1)]","x":10,"y":19},{"s":"[PGV,SA(Td1)]","x":15,"y":10},{"s":"[PGV,SA(Td1)]","x":20,"y":6.0},{"s":"[PGV,SA(Td1)]","x":25,"y":3.9},{"s":"[PGV,SA(Td1)]","x":30,"y":2.6},{"s":"[PGV,SA(Td1)]","x":35,"y":1.85},{"s":"[PGV,SA(Td1)]","x":40,"y":1.3},{"s":"[PGV,SA(Td1)]","x":45,"y":0.95},{"s":"[PGV,SA(Td1)]","x":50,"y":0.7},
{"s":"[SA(Td2),Tm]","x":0,"y":85},{"s":"[SA(Td2),Tm]","x":5,"y":42},{"s":"[SA(Td2),Tm]","x":10,"y":21},{"s":"[SA(Td2),Tm]","x":15,"y":12},{"s":"[SA(Td2),Tm]","x":20,"y":7.2},{"s":"[SA(Td2),Tm]","x":25,"y":4.9},{"s":"[SA(Td2),Tm]","x":30,"y":3.5},{"s":"[SA(Td2),Tm]","x":35,"y":2.5},{"s":"[SA(Td2),Tm]","x":40,"y":1.85},{"s":"[SA(Td2),Tm]","x":45,"y":1.4},{"s":"[SA(Td2),Tm]","x":50,"y":1.05},
{"s":"[PGA,IA]","x":0,"y":110},{"s":"[PGA,IA]","x":5,"y":50},{"s":"[PGA,IA]","x":10,"y":22},{"s":"[PGA,IA]","x":15,"y":12},{"s":"[PGA,IA]","x":20,"y":7.0},{"s":"[PGA,IA]","x":25,"y":4.6},{"s":"[PGA,IA]","x":30,"y":3.1},{"s":"[PGA,IA]","x":35,"y":2.2},{"s":"[PGA,IA]","x":40,"y":1.6},{"s":"[PGA,IA]","x":45,"y":1.15},{"s":"[PGA,IA]","x":50,"y":0.85},
{"s":"[PGV,Tm]","x":0,"y":80},{"s":"[PGV,Tm]","x":5,"y":40},{"s":"[PGV,Tm]","x":10,"y":20},{"s":"[PGV,Tm]","x":15,"y":11.5},{"s":"[PGV,Tm]","x":20,"y":7.0},{"s":"[PGV,Tm]","x":25,"y":4.8},{"s":"[PGV,Tm]","x":30,"y":3.4},{"s":"[PGV,Tm]","x":35,"y":2.5},{"s":"[PGV,Tm]","x":40,"y":1.85},{"s":"[PGV,Tm]","x":45,"y":1.4},{"s":"[PGV,Tm]","x":50,"y":1.05},
{"s":"[IA,CAV]","x":0,"y":70},{"s":"[IA,CAV]","x":5,"y":36},{"s":"[IA,CAV]","x":10,"y":18},{"s":"[IA,CAV]","x":15,"y":10.5},{"s":"[IA,CAV]","x":20,"y":6.5},{"s":"[IA,CAV]","x":25,"y":4.4},{"s":"[IA,CAV]","x":30,"y":3.1},{"s":"[IA,CAV]","x":35,"y":2.3},{"s":"[IA,CAV]","x":40,"y":1.7},{"s":"[IA,CAV]","x":45,"y":1.3},{"s":"[IA,CAV]","x":50,"y":0.95},
{"s":"[IA,SI]","x":0,"y":170},{"s":"[IA,SI]","x":5,"y":75},{"s":"[IA,SI]","x":10,"y":32},{"s":"[IA,SI]","x":15,"y":17},{"s":"[IA,SI]","x":20,"y":9.5},{"s":"[IA,SI]","x":25,"y":6.0},{"s":"[IA,SI]","x":30,"y":4.0},{"s":"[IA,SI]","x":35,"y":3.0},{"s":"[IA,SI]","x":40,"y":2.1},{"s":"[IA,SI]","x":45,"y":1.5},{"s":"[IA,SI]","x":50,"y":1.0},
{"s":"[IA,Tm]","x":0,"y":150},{"s":"[IA,Tm]","x":5,"y":72},{"s":"[IA,Tm]","x":10,"y":35},{"s":"[IA,Tm]","x":15,"y":19},{"s":"[IA,Tm]","x":20,"y":11},{"s":"[IA,Tm]","x":25,"y":7.5},{"s":"[IA,Tm]","x":30,"y":5.5},{"s":"[IA,Tm]","x":35,"y":4.0},{"s":"[IA,Tm]","x":40,"y":3.0},{"s":"[IA,Tm]","x":45,"y":2.3},{"s":"[IA,Tm]","x":50,"y":1.6},
{"s":"[SA(Td2),CAV]","x":0,"y":130},{"s":"[SA(Td2),CAV]","x":5,"y":70},{"s":"[SA(Td2),CAV]","x":10,"y":35},{"s":"[SA(Td2),CAV]","x":15,"y":20},{"s":"[SA(Td2),CAV]","x":20,"y":12},{"s":"[SA(Td2),CAV]","x":25,"y":8.0},{"s":"[SA(Td2),CAV]","x":30,"y":5.5},{"s":"[SA(Td2),CAV]","x":35,"y":4.0},{"s":"[SA(Td2),CAV]","x":40,"y":2.9},{"s":"[SA(Td2),CAV]","x":45,"y":2.1},{"s":"[SA(Td2),CAV]","x":50,"y":1.5},
{"s":"[IA,PGV]","x":0,"y":210},{"s":"[IA,PGV]","x":5,"y":90},{"s":"[IA,PGV]","x":10,"y":38},{"s":"[IA,PGV]","x":15,"y":20},{"s":"[IA,PGV]","x":20,"y":11.5},{"s":"[IA,PGV]","x":25,"y":7.5},{"s":"[IA,PGV]","x":30,"y":4.8},{"s":"[IA,PGV]","x":35,"y":3.5},{"s":"[IA,PGV]","x":40,"y":2.4},{"s":"[IA,PGV]","x":45,"y":1.7},{"s":"[IA,PGV]","x":50,"y":1.2},
{"s":"[CAV,SI]","x":0,"y":150},{"s":"[CAV,SI]","x":5,"y":75},{"s":"[CAV,SI]","x":10,"y":38},{"s":"[CAV,SI]","x":15,"y":22},{"s":"[CAV,SI]","x":20,"y":13},{"s":"[CAV,SI]","x":25,"y":9},{"s":"[CAV,SI]","x":30,"y":7.0},{"s":"[CAV,SI]","x":35,"y":5.2},{"s":"[CAV,SI]","x":40,"y":3.8},{"s":"[CAV,SI]","x":45,"y":2.8},{"s":"[CAV,SI]","x":50,"y":2.0},
{"s":"[PGA,SI]","x":0,"y":140},{"s":"[PGA,SI]","x":5,"y":62},{"s":"[PGA,SI]","x":10,"y":28},{"s":"[PGA,SI]","x":15,"y":15},{"s":"[PGA,SI]","x":20,"y":8.5},{"s":"[PGA,SI]","x":25,"y":5.5},{"s":"[PGA,SI]","x":30,"y":3.5},{"s":"[PGA,SI]","x":35,"y":2.6},{"s":"[PGA,SI]","x":40,"y":1.9},{"s":"[PGA,SI]","x":45,"y":1.4},{"s":"[PGA,SI]","x":50,"y":1.0},
{"s":"[IA,SA(Td2)]","x":0,"y":180},{"s":"[IA,SA(Td2)]","x":5,"y":80},{"s":"[IA,SA(Td2)]","x":10,"y":36},{"s":"[IA,SA(Td2)]","x":15,"y":20},{"s":"[IA,SA(Td2)]","x":20,"y":12},{"s":"[IA,SA(Td2)]","x":25,"y":8},{"s":"[IA,SA(Td2)]","x":30,"y":5.5},{"s":"[IA,SA(Td2)]","x":35,"y":3.8},{"s":"[IA,SA(Td2)]","x":40,"y":2.7},{"s":"[IA,SA(Td2)]","x":45,"y":1.9},{"s":"[IA,SA(Td2)]","x":50,"y":1.4},
{"s":"[PGV,CAV]","x":0,"y":280},{"s":"[PGV,CAV]","x":5,"y":110},{"s":"[PGV,CAV]","x":10,"y":50},{"s":"[PGV,CAV]","x":15,"y":30},{"s":"[PGV,CAV]","x":20,"y":17},{"s":"[PGV,CAV]","x":25,"y":11},{"s":"[PGV,CAV]","x":30,"y":8.0},{"s":"[PGV,CAV]","x":35,"y":5.8},{"s":"[PGV,CAV]","x":40,"y":4.2},{"s":"[PGV,CAV]","x":45,"y":3.2},{"s":"[PGV,CAV]","x":50,"y":2.4},
{"s":"[SA(Td2),SI]","x":0,"y":110},{"s":"[SA(Td2),SI]","x":5,"y":52},{"s":"[SA(Td2),SI]","x":10,"y":24},{"s":"[SA(Td2),SI]","x":15,"y":12.5},{"s":"[SA(Td2),SI]","x":20,"y":7.0},{"s":"[SA(Td2),SI]","x":25,"y":4.5},{"s":"[SA(Td2),SI]","x":30,"y":3.0},{"s":"[SA(Td2),SI]","x":35,"y":2.2},{"s":"[SA(Td2),SI]","x":40,"y":1.6},{"s":"[SA(Td2),SI]","x":45,"y":1.15},{"s":"[SA(Td2),SI]","x":50,"y":0.8},
{"s":"[PGV,ASI]","x":0,"y":120},{"s":"[PGV,ASI]","x":5,"y":50},{"s":"[PGV,ASI]","x":10,"y":22},{"s":"[PGV,ASI]","x":15,"y":11.5},{"s":"[PGV,ASI]","x":20,"y":6.5},{"s":"[PGV,ASI]","x":25,"y":4.5},{"s":"[PGV,ASI]","x":30,"y":2.9},{"s":"[PGV,ASI]","x":35,"y":2.1},{"s":"[PGV,ASI]","x":40,"y":1.5},{"s":"[PGV,ASI]","x":45,"y":1.05},{"s":"[PGV,ASI]","x":50,"y":0.75}
]},
"concat":[
{"width":286,"height":247,"data":{"name":"s55"},
"layer":[
{"mark":{"type":"line","clip":true},
"encoding":{
"x":{"field":"x","type":"quantitative","scale":{"domain":[0,50],"nice":false,"zero":false},"axis":{"orient":"bottom","values":[0,10,20,30,40,50],"title":"Rupture distance (km)","tickSize":-5,"labelPadding":8,"titlePadding":4}},
"y":{"field":"y","type":"quantitative","scale":{"type":"log","domain":[0.1,1000],"nice":false},"axis":{"orient":"left","values":[0.1,0.2,0.3,0.4,0.5,0.6,0.7,0.8,0.9,1,2,3,4,5,6,7,8,9,10,20,30,40,50,60,70,80,90,100,200,300,400,500,600,700,800,900,1000],"labelExpr":"datum.value == 1000 ? '10³' : datum.value == 100 ? '10²' : datum.value == 10 ? '10¹' : datum.value == 1 ? '10⁰' : datum.value == 0.1 ? '10⁻¹' : ''","tickSize":{"condition":{"test":"indexof([0.1,1,10,100,1000], datum.value) >= 0","value":-5},"value":-3},"labelPadding":8,"title":"Geo.mean of predicted D (cm)","titlePadding":0}},
"color":{"field":"s","type":"nominal","scale":{"domain":["SA(Td2)","IA","PGV","SI","CAV","ASI","PGA","SA(Td1)","Tm","Ds5-75"," ","  "],"range":["#3e3ea8","#3b55c8","#2a73d9","#35b6e5","#3dbb93","#8fcb5b","#fdc22c","#f4663d","#f26a5a","#8a1c1c","transparent","transparent"]},
"legend":{"title":null,"orient":"none","legendX":65,"legendY":-31,"columns":3,"symbolLimit":100,"symbolSize":169,"symbolStrokeWidth":1.5,"labelFontSize":10.5,"labelFont":"Liberation Sans","labelColor":"#262626","labelOffset":2,"columnPadding":3,"rowPadding":0,"padding":2,"fillColor":"white","strokeColor":"#262626","labelLimit":200,
"encode":{"symbols":{"update":{"shape":{"signal":"datum.value=='SA(Td2)' ? 'M-1,0H1M-0.36,-0.36L0.36,0.36M-0.36,0.36L0.36,-0.36' : datum.value=='IA' ? 'M-1,0H1M0,-0.45V0.45' : datum.value=='PGV' ? 'M-1,0H1M-0.36,0A0.36,0.36,0,1,1,0.36,0A0.36,0.36,0,1,1,-0.36,0Z' : datum.value=='SI' ? 'M-1,0H1M-0.34,-0.34H0.34V0.34H-0.34Z' : datum.value=='CAV' ? 'M-1,0H1M0,-0.45L0.36,0L0,0.45L-0.36,0Z' : datum.value=='ASI' ? 'M-1,0H1M0,-0.4L0.4,0.32H-0.4Z' : datum.value=='PGA' ? 'M-1,0H1M0,0.4L0.4,-0.32H-0.4Z' : datum.value=='SA(Td1)' ? 'M-1,0H1M-0.27,0A0.27,0.27,0,1,1,0.27,0A0.27,0.27,0,1,1,-0.27,0Z' : 'M-1,0H1'"},"fill":{"signal":"datum.value=='SA(Td1)' ? '#f4663d' : 'transparent'"}}}}}},
"strokeDash":{"field":"s","type":"nominal","scale":{"domain":["SA(Td2)","IA","PGV","SI","CAV","ASI","PGA","SA(Td1)","Tm","Ds5-75"," ","  "],"range":[[1,0],[1,0],[1,0],[1,0],[1,0],[1,0],[1,0],[1,0],[4,3],[5,2,1,2],[1,0],[1,0]]}},
"strokeWidth":{"condition":{"test":"datum.s=='Tm' || datum.s=='Ds5-75'","value":1.2},"value":1.6}}},
{"transform":[{"filter":"datum.y >= 0.1 && ((datum.x == 0 && datum.s != 'Tm' && datum.s != 'Ds5-75') || indexof(['SA(Td2)|24.14','SA(Td2)|48.28','IA|34.48','PGV|31.03','SI|37.93','CAV|27.59','ASI|41.38','PGA|44.83','SA(Td1)|17.24','SA(Td1)|34.48'], datum.s + '|' + datum.x) >= 0)"}],
"mark":{"type":"point","clip":false,"filled":false,"size":45,"strokeWidth":1.3,"opacity":1},
"encoding":{
"x":{"field":"x","type":"quantitative","axis":null},
"y":{"field":"y","type":"quantitative","axis":null},
"color":{"field":"s","type":"nominal","legend":null},
"shape":{"field":"s","type":"nominal","scale":{"domain":["SA(Td2)","IA","PGV","SI","CAV","ASI","PGA","SA(Td1)"],"range":["M-0.8,-0.8L0.8,0.8M-0.8,0.8L0.8,-0.8","M-1,0H1M0,-1V1","M-0.85,0A0.85,0.85,0,1,1,0.85,0A0.85,0.85,0,1,1,-0.85,0Z","M-0.75,-0.75H0.75V0.75H-0.75Z","M0,-1L0.8,0L0,1L-0.8,0Z","M0,-0.9L0.9,0.7H-0.9Z","M0,0.9L0.9,-0.7H-0.9Z","M-0.6,0A0.6,0.6,0,1,1,0.6,0A0.6,0.6,0,1,1,-0.6,0Z"]},"legend":null},
"fill":{"condition":{"test":"datum.s=='SA(Td1)'","value":"#f4663d"},"value":"transparent"}}},
{"data":{"values":[{}]},
"mark":{"type":"text","fontSize":17,"font":"Liberation Sans","color":"#262626","baseline":"middle","align":"center"},
"encoding":{
"x":{"datum":25.5,"type":"quantitative","axis":{"orient":"top","values":[0,10,20,30,40,50],"labels":false,"title":null,"tickSize":-5,"domain":false}},
"y":{"datum":100,"type":"quantitative","axis":{"orient":"right","values":[0.1,0.2,0.3,0.4,0.5,0.6,0.7,0.8,0.9,1,2,3,4,5,6,7,8,9,10,20,30,40,50,60,70,80,90,100,200,300,400,500,600,700,800,900,1000],"labels":false,"title":null,"domain":false,"tickSize":{"condition":{"test":"indexof([0.1,1,10,100,1000], datum.value) >= 0","value":-5},"value":-3}}},
"text":{"value":"Scalar-IM models for M = 5.5"}}}
],
"resolve":{"axis":{"x":"independent","y":"independent"}}},

{"width":286,"height":247,"data":{"name":"v55"},
"layer":[
{"mark":{"type":"line","clip":true},
"encoding":{
"x":{"field":"x","type":"quantitative","scale":{"domain":[0,50],"nice":false,"zero":false},"axis":{"orient":"bottom","values":[0,10,20,30,40,50],"title":"Rupture distance (km)","tickSize":-5,"labelPadding":8,"titlePadding":4}},
"y":{"field":"y","type":"quantitative","scale":{"type":"log","domain":[0.1,1000],"nice":false},"axis":{"orient":"left","values":[0.1,0.2,0.3,0.4,0.5,0.6,0.7,0.8,0.9,1,2,3,4,5,6,7,8,9,10,20,30,40,50,60,70,80,90,100,200,300,400,500,600,700,800,900,1000],"labelExpr":"datum.value == 1000 ? '10³' : datum.value == 100 ? '10²' : datum.value == 10 ? '10¹' : datum.value == 1 ? '10⁰' : datum.value == 0.1 ? '10⁻¹' : ''","tickSize":{"condition":{"test":"indexof([0.1,1,10,100,1000], datum.value) >= 0","value":-5},"value":-3},"labelPadding":8,"title":"Geo.mean of predicted D (cm)","titlePadding":0}},
"color":{"field":"s","type":"nominal","scale":{"domain":["[IA,SI]","[IA,Tm]","[SA(Td2),CAV]","[IA,PGV]","[CAV,SI]","[PGA,SI]","[IA,SA(Td2)]","[PGV,CAV]","[SA(Td2),SI]","[PGV,ASI]"," ","  ","   ","    ","[PGV,SA(Td2)]","[IA,SA(Td1)]","[SA(Td1),SI]","[PGA,Tm]","[PGA,PGV]","[PGA,SA(Td2)]","[SA(Td2),ASI]","[SA(Td2),Ds5-75]","[CAV,Ds5-75]","[PGV,SA(Td1)]","[SA(Td2),Tm]","[PGA,IA]","[PGV,Tm]","[IA,CAV]","[IA,Ds5-75]","[IA,ASI]","[PGV,SI]","[CAV,ASI]","[SA(Td1),ASI]","[PGV,Ds5-75]","[PGA,CAV]","[CAV,Tm]","[SA(Td1),CAV]","[PGA,SA(Td1)]","[PGA,ASI]","[SA(Td1),Tm]","[PGA,Ds5-75]","[SA(Td1),Ds5-75]"],
"range":["#e8321f","#ed4424","#f05a28","#f26b2b","#f47c2c","#f88f2a","#fba42a","#fdb92c","#f5cd2e","#e6d933","transparent","transparent","transparent","transparent","#e040c8","#cf44cc","#bc4ad0","#a551d0","#9356cd","#7b5aca","#6a62c9","#5e70cd","#5a80d4","#5a90d8","#5aa2dc","#5ab3de","#5ac1e0","#5ccde2","#4a5a8c","#4f6390","#566b94","#5c7398","#627b9b","#68839f","#6e8ba3","#7494a7","#7b9daa","#83a6ae","#8bb0b3","#94bab8","#9dc3bd","#a6cdc3"]},
"legend":{"title":null,"orient":"none","legendX":14,"legendY":-53,"columns":3,"symbolLimit":100,"symbolSize":72,"symbolStrokeWidth":1.1,"labelFontSize":8.2,"labelFont":"Liberation Sans","labelColor":"#262626","labelOffset":6,"columnPadding":5,"rowPadding":0,"padding":2,"fillColor":"white","strokeColor":"#262626","labelLimit":200,
"encode":{"symbols":{"update":{"shape":{"signal":"'M-1.5,0H1.5' + (datum.value=='[IA,SI]' ? 'M-0.45,-0.45L0.45,0.45M-0.45,0.45L0.45,-0.45' : datum.value=='[IA,Tm]' ? 'M0,-0.55V0.55' : datum.value=='[SA(Td2),CAV]' ? 'M-0.48,0A0.48,0.48,0,1,1,0.48,0A0.48,0.48,0,1,1,-0.48,0Z' : datum.value=='[IA,PGV]' ? 'M-0.42,-0.42H0.42V0.42H-0.42Z' : datum.value=='[CAV,SI]' ? 'M0,-0.55L0.45,0L0,0.55L-0.45,0Z' : datum.value=='[PGA,SI]' ? 'M0,-0.5L0.5,0.4H-0.5Z' : datum.value=='[IA,SA(Td2)]' ? 'M0,0.5L0.5,-0.4H-0.5Z' : datum.value=='[PGV,CAV]' ? 'M0,-0.55V0.55M-0.4,-0.4L0.4,0.4M-0.4,0.4L0.4,-0.4' : datum.value=='[SA(Td2),SI]' ? 'M-0.5,0L0.4,-0.5V0.5Z' : datum.value=='[PGV,ASI]' ? 'M0.5,0L-0.4,-0.5V0.5Z' : '')"},"fill":{"value":"transparent"}}}}}},
"strokeDash":{"field":"s","type":"nominal","scale":{"domain":["[IA,SI]","[IA,Tm]","[SA(Td2),CAV]","[IA,PGV]","[CAV,SI]","[PGA,SI]","[IA,SA(Td2)]","[PGV,CAV]","[SA(Td2),SI]","[PGV,ASI]"," ","  ","   ","    ","[PGV,SA(Td2)]","[IA,SA(Td1)]","[SA(Td1),SI]","[PGA,Tm]","[PGA,PGV]","[PGA,SA(Td2)]","[SA(Td2),ASI]","[SA(Td2),Ds5-75]","[CAV,Ds5-75]","[PGV,SA(Td1)]","[SA(Td2),Tm]","[PGA,IA]","[PGV,Tm]","[IA,CAV]","[IA,Ds5-75]","[IA,ASI]","[PGV,SI]","[CAV,ASI]","[SA(Td1),ASI]","[PGV,Ds5-75]","[PGA,CAV]","[CAV,Tm]","[SA(Td1),CAV]","[PGA,SA(Td1)]","[PGA,ASI]","[SA(Td1),Tm]","[PGA,Ds5-75]","[SA(Td1),Ds5-75]"],
"range":[[1,0],[1,0],[1,0],[1,0],[1,0],[1,0],[1,0],[1,0],[1,0],[1,0],[1,0],[1,0],[1,0],[1,0],[4,3],[4,3],[4,3],[4,3],[4,3],[4,3],[4,3],[4,3],[4,3],[4,3],[4,3],[4,3],[4,3],[4,3],[4,1.5,1,1.5],[4,1.5,1,1.5],[4,1.5,1,1.5],[4,1.5,1,1.5],[4,1.5,1,1.5],[4,1.5,1,1.5],[4,1.5,1,1.5],[4,1.5,1,1.5],[4,1.5,1,1.5],[4,1.5,1,1.5],[4,1.5,1,1.5],[4,1.5,1,1.5],[4,1.5,1,1.5],[4,1.5,1,1.5]]}},
"strokeWidth":{"condition":{"test":"indexof(['[IA,SI]','[IA,Tm]','[SA(Td2),CAV]','[IA,PGV]','[CAV,SI]','[PGA,SI]','[IA,SA(Td2)]','[PGV,CAV]','[SA(Td2),SI]','[PGV,ASI]'], datum.s) >= 0","value":1.8},"value":1.2}}},
{"transform":[{"filter":"datum.y >= 0.1 && indexof(['[IA,SI]','[IA,Tm]','[SA(Td2),CAV]','[IA,PGV]','[CAV,SI]','[PGA,SI]','[IA,SA(Td2)]','[PGV,CAV]','[SA(Td2),SI]','[PGV,ASI]'], datum.s) >= 0 && (datum.x == 0 || indexof(['[IA,SI]|45','[IA,Tm]|25','[SA(Td2),CAV]|30','[IA,PGV]|40','[CAV,SI]|25','[PGA,SI]|20','[IA,SA(Td2)]|35','[PGV,CAV]|15','[PGV,CAV]|35','[SA(Td2),SI]|40','[PGV,ASI]|45'], datum.s + '|' + datum.x) >= 0)"}],
"mark":{"type":"point","clip":false,"filled":false,"size":45,"strokeWidth":1.4,"opacity":1},
"encoding":{
"x":{"field":"x","type":"quantitative","axis":null},
"y":{"field":"y","type":"quantitative","axis":null},
"color":{"field":"s","type":"nominal","legend":null},
"shape":{"field":"s","type":"nominal","scale":{"domain":["[IA,SI]","[IA,Tm]","[SA(Td2),CAV]","[IA,PGV]","[CAV,SI]","[PGA,SI]","[IA,SA(Td2)]","[PGV,CAV]","[SA(Td2),SI]","[PGV,ASI]"],"range":["M-0.8,-0.8L0.8,0.8M-0.8,0.8L0.8,-0.8","M-1,0H1M0,-1V1","M-0.85,0A0.85,0.85,0,1,1,0.85,0A0.85,0.85,0,1,1,-0.85,0Z","M-0.75,-0.75H0.75V0.75H-0.75Z","M0,-1L0.8,0L0,1L-0.8,0Z","M0,-0.9L0.9,0.7H-0.9Z","M0,0.9L0.9,-0.7H-0.9Z","M-1,0H1M0,-1V1M-0.7,-0.7L0.7,0.7M-0.7,0.7L0.7,-0.7","M-0.9,0L0.7,-0.9V0.9Z","M0.9,0L-0.7,-0.9V0.9Z"]},"legend":null}}},
{"data":{"values":[{}]},
"mark":{"type":"text","fontSize":17,"font":"Liberation Sans","color":"#262626","baseline":"middle","align":"center"},
"encoding":{
"x":{"datum":24.6,"type":"quantitative","axis":{"orient":"top","values":[0,10,20,30,40,50],"labels":false,"title":null,"tickSize":-5,"domain":false}},
"y":{"datum":17.5,"type":"quantitative","axis":{"orient":"right","values":[0.1,0.2,0.3,0.4,0.5,0.6,0.7,0.8,0.9,1,2,3,4,5,6,7,8,9,10,20,30,40,50,60,70,80,90,100,200,300,400,500,600,700,800,900,1000],"labels":false,"title":null,"domain":false,"tickSize":{"condition":{"test":"indexof([0.1,1,10,100,1000], datum.value) >= 0","value":-5},"value":-3}}},
"text":{"value":"Vector-IM models for M = 5.5"}}}
],
"resolve":{"axis":{"x":"independent","y":"independent"}}},

{"width":286,"height":247,"data":{"name":"s75"},
"layer":[
{"mark":{"type":"line","clip":true},
"encoding":{
"x":{"field":"x","type":"quantitative","scale":{"domain":[0,50],"nice":false,"zero":false},"axis":{"orient":"bottom","values":[0,10,20,30,40,50],"title":"Rupture distance (km)","tickSize":-5,"labelPadding":8,"titlePadding":4}},
"y":{"field":"y","type":"quantitative","scale":{"type":"log","domain":[0.1,1000],"nice":false},"axis":{"orient":"left","values":[0.1,0.2,0.3,0.4,0.5,0.6,0.7,0.8,0.9,1,2,3,4,5,6,7,8,9,10,20,30,40,50,60,70,80,90,100,200,300,400,500,600,700,800,900,1000],"labelExpr":"datum.value == 1000 ? '10³' : datum.value == 100 ? '10²' : datum.value == 10 ? '10¹' : datum.value == 1 ? '10⁰' : datum.value == 0.1 ? '10⁻¹' : ''","tickSize":{"condition":{"test":"indexof([0.1,1,10,100,1000], datum.value) >= 0","value":-5},"value":-3},"labelPadding":8,"title":"Geo.mean of predicted D (cm)","titlePadding":0}},
"color":{"field":"s","type":"nominal","scale":{"domain":["SA(Td2)","IA","PGV","SI","CAV","ASI","PGA","SA(Td1)","Tm","Ds5-75"," ","  "],"range":["#3e3ea8","#3b55c8","#2a73d9","#35b6e5","#3dbb93","#8fcb5b","#fdc22c","#f4663d","#f26a5a","#8a1c1c","transparent","transparent"]},"legend":null},
"strokeDash":{"field":"s","type":"nominal","scale":{"domain":["SA(Td2)","IA","PGV","SI","CAV","ASI","PGA","SA(Td1)","Tm","Ds5-75"," ","  "],"range":[[1,0],[1,0],[1,0],[1,0],[1,0],[1,0],[1,0],[1,0],[4,3],[5,2,1,2],[1,0],[1,0]]},"legend":null},
"strokeWidth":{"condition":{"test":"datum.s=='Tm' || datum.s=='Ds5-75'","value":1.2},"value":1.6}}},
{"transform":[{"filter":"datum.y >= 0.1 && ((datum.x == 0 && datum.s != 'Tm' && datum.s != 'Ds5-75') || indexof(['SA(Td2)|24.14','SA(Td2)|48.28','IA|34.48','PGV|31.03','SI|37.93','CAV|27.59','ASI|41.38','PGA|44.83','SA(Td1)|17.24','SA(Td1)|34.48'], datum.s + '|' + datum.x) >= 0)"}],
"mark":{"type":"point","clip":false,"filled":false,"size":45,"strokeWidth":1.3,"opacity":1},
"encoding":{
"x":{"field":"x","type":"quantitative","axis":null},
"y":{"field":"y","type":"quantitative","axis":null},
"color":{"field":"s","type":"nominal","legend":null},
"shape":{"field":"s","type":"nominal","scale":{"domain":["SA(Td2)","IA","PGV","SI","CAV","ASI","PGA","SA(Td1)"],"range":["M-0.8,-0.8L0.8,0.8M-0.8,0.8L0.8,-0.8","M-1,0H1M0,-1V1","M-0.85,0A0.85,0.85,0,1,1,0.85,0A0.85,0.85,0,1,1,-0.85,0Z","M-0.75,-0.75H0.75V0.75H-0.75Z","M0,-1L0.8,0L0,1L-0.8,0Z","M0,-0.9L0.9,0.7H-0.9Z","M0,0.9L0.9,-0.7H-0.9Z","M-0.6,0A0.6,0.6,0,1,1,0.6,0A0.6,0.6,0,1,1,-0.6,0Z"]},"legend":null},
"fill":{"condition":{"test":"datum.s=='SA(Td1)'","value":"#f4663d"},"value":"transparent"}}},
{"data":{"values":[{}]},
"mark":{"type":"text","fontSize":17,"font":"Liberation Sans","color":"#262626","baseline":"middle","align":"center"},
"encoding":{
"x":{"datum":25.5,"type":"quantitative","axis":{"orient":"top","values":[0,10,20,30,40,50],"labels":false,"title":null,"tickSize":-5,"domain":false}},
"y":{"datum":405,"type":"quantitative","axis":{"orient":"right","values":[0.1,0.2,0.3,0.4,0.5,0.6,0.7,0.8,0.9,1,2,3,4,5,6,7,8,9,10,20,30,40,50,60,70,80,90,100,200,300,400,500,600,700,800,900,1000],"labels":false,"title":null,"domain":false,"tickSize":{"condition":{"test":"indexof([0.1,1,10,100,1000], datum.value) >= 0","value":-5},"value":-3}}},
"text":{"value":"Scalar-IM models for M = 7.5"}}}
],
"resolve":{"axis":{"x":"independent","y":"independent"}}},

{"width":286,"height":247,"data":{"name":"v75"},
"layer":[
{"mark":{"type":"line","clip":true},
"encoding":{
"x":{"field":"x","type":"quantitative","scale":{"domain":[0,50],"nice":false,"zero":false},"axis":{"orient":"bottom","values":[0,10,20,30,40,50],"title":"Rupture distance (km)","tickSize":-5,"labelPadding":8,"titlePadding":4}},
"y":{"field":"y","type":"quantitative","scale":{"type":"log","domain":[0.1,1000],"nice":false},"axis":{"orient":"left","values":[0.1,0.2,0.3,0.4,0.5,0.6,0.7,0.8,0.9,1,2,3,4,5,6,7,8,9,10,20,30,40,50,60,70,80,90,100,200,300,400,500,600,700,800,900,1000],"labelExpr":"datum.value == 1000 ? '10³' : datum.value == 100 ? '10²' : datum.value == 10 ? '10¹' : datum.value == 1 ? '10⁰' : datum.value == 0.1 ? '10⁻¹' : ''","tickSize":{"condition":{"test":"indexof([0.1,1,10,100,1000], datum.value) >= 0","value":-5},"value":-3},"labelPadding":8,"title":"Geo.mean of predicted D (cm)","titlePadding":0}},
"color":{"field":"s","type":"nominal","scale":{"domain":["[IA,SI]","[IA,Tm]","[SA(Td2),CAV]","[IA,PGV]","[CAV,SI]","[PGA,SI]","[IA,SA(Td2)]","[PGV,CAV]","[SA(Td2),SI]","[PGV,ASI]"," ","  ","   ","    ","[PGV,SA(Td2)]","[IA,SA(Td1)]","[SA(Td1),SI]","[PGA,Tm]","[PGA,PGV]","[PGA,SA(Td2)]","[SA(Td2),ASI]","[SA(Td2),Ds5-75]","[CAV,Ds5-75]","[PGV,SA(Td1)]","[SA(Td2),Tm]","[PGA,IA]","[PGV,Tm]","[IA,CAV]","[IA,Ds5-75]","[IA,ASI]","[PGV,SI]","[CAV,ASI]","[SA(Td1),ASI]","[PGV,Ds5-75]","[PGA,CAV]","[CAV,Tm]","[SA(Td1),CAV]","[PGA,SA(Td1)]","[PGA,ASI]","[SA(Td1),Tm]","[PGA,Ds5-75]","[SA(Td1),Ds5-75]"],
"range":["#e8321f","#ed4424","#f05a28","#f26b2b","#f47c2c","#f88f2a","#fba42a","#fdb92c","#f5cd2e","#e6d933","transparent","transparent","transparent","transparent","#e040c8","#cf44cc","#bc4ad0","#a551d0","#9356cd","#7b5aca","#6a62c9","#5e70cd","#5a80d4","#5a90d8","#5aa2dc","#5ab3de","#5ac1e0","#5ccde2","#4a5a8c","#4f6390","#566b94","#5c7398","#627b9b","#68839f","#6e8ba3","#7494a7","#7b9daa","#83a6ae","#8bb0b3","#94bab8","#9dc3bd","#a6cdc3"]},"legend":null},
"strokeDash":{"field":"s","type":"nominal","scale":{"domain":["[IA,SI]","[IA,Tm]","[SA(Td2),CAV]","[IA,PGV]","[CAV,SI]","[PGA,SI]","[IA,SA(Td2)]","[PGV,CAV]","[SA(Td2),SI]","[PGV,ASI]"," ","  ","   ","    ","[PGV,SA(Td2)]","[IA,SA(Td1)]","[SA(Td1),SI]","[PGA,Tm]","[PGA,PGV]","[PGA,SA(Td2)]","[SA(Td2),ASI]","[SA(Td2),Ds5-75]","[CAV,Ds5-75]","[PGV,SA(Td1)]","[SA(Td2),Tm]","[PGA,IA]","[PGV,Tm]","[IA,CAV]","[IA,Ds5-75]","[IA,ASI]","[PGV,SI]","[CAV,ASI]","[SA(Td1),ASI]","[PGV,Ds5-75]","[PGA,CAV]","[CAV,Tm]","[SA(Td1),CAV]","[PGA,SA(Td1)]","[PGA,ASI]","[SA(Td1),Tm]","[PGA,Ds5-75]","[SA(Td1),Ds5-75]"],
"range":[[1,0],[1,0],[1,0],[1,0],[1,0],[1,0],[1,0],[1,0],[1,0],[1,0],[1,0],[1,0],[1,0],[1,0],[4,3],[4,3],[4,3],[4,3],[4,3],[4,3],[4,3],[4,3],[4,3],[4,3],[4,3],[4,3],[4,3],[4,3],[4,1.5,1,1.5],[4,1.5,1,1.5],[4,1.5,1,1.5],[4,1.5,1,1.5],[4,1.5,1,1.5],[4,1.5,1,1.5],[4,1.5,1,1.5],[4,1.5,1,1.5],[4,1.5,1,1.5],[4,1.5,1,1.5],[4,1.5,1,1.5],[4,1.5,1,1.5],[4,1.5,1,1.5],[4,1.5,1,1.5]]},"legend":null},
"strokeWidth":{"condition":{"test":"indexof(['[IA,SI]','[IA,Tm]','[SA(Td2),CAV]','[IA,PGV]','[CAV,SI]','[PGA,SI]','[IA,SA(Td2)]','[PGV,CAV]','[SA(Td2),SI]','[PGV,ASI]'], datum.s) >= 0","value":1.8},"value":1.2}}},
{"transform":[{"filter":"datum.y >= 0.1 && indexof(['[IA,SI]','[IA,Tm]','[SA(Td2),CAV]','[IA,PGV]','[CAV,SI]','[PGA,SI]','[IA,SA(Td2)]','[PGV,CAV]','[SA(Td2),SI]','[PGV,ASI]'], datum.s) >= 0 && (datum.x == 0 || indexof(['[IA,SI]|45','[IA,Tm]|25','[SA(Td2),CAV]|30','[IA,PGV]|40','[CAV,SI]|25','[PGA,SI]|20','[IA,SA(Td2)]|35','[PGV,CAV]|15','[PGV,CAV]|35','[SA(Td2),SI]|40','[PGV,ASI]|45'], datum.s + '|' + datum.x) >= 0)"}],
"mark":{"type":"point","clip":false,"filled":false,"size":45,"strokeWidth":1.4,"opacity":1},
"encoding":{
"x":{"field":"x","type":"quantitative","axis":null},
"y":{"field":"y","type":"quantitative","axis":null},
"color":{"field":"s","type":"nominal","legend":null},
"shape":{"field":"s","type":"nominal","scale":{"domain":["[IA,SI]","[IA,Tm]","[SA(Td2),CAV]","[IA,PGV]","[CAV,SI]","[PGA,SI]","[IA,SA(Td2)]","[PGV,CAV]","[SA(Td2),SI]","[PGV,ASI]"],"range":["M-0.8,-0.8L0.8,0.8M-0.8,0.8L0.8,-0.8","M-1,0H1M0,-1V1","M-0.85,0A0.85,0.85,0,1,1,0.85,0A0.85,0.85,0,1,1,-0.85,0Z","M-0.75,-0.75H0.75V0.75H-0.75Z","M0,-1L0.8,0L0,1L-0.8,0Z","M0,-0.9L0.9,0.7H-0.9Z","M0,0.9L0.9,-0.7H-0.9Z","M-1,0H1M0,-1V1M-0.7,-0.7L0.7,0.7M-0.7,0.7L0.7,-0.7","M-0.9,0L0.7,-0.9V0.9Z","M0.9,0L-0.7,-0.9V0.9Z"]},"legend":null}}},
{"data":{"values":[{}]},
"mark":{"type":"text","fontSize":17,"font":"Liberation Sans","color":"#262626","baseline":"middle","align":"center"},
"encoding":{
"x":{"datum":24.5,"type":"quantitative","axis":{"orient":"top","values":[0,10,20,30,40,50],"labels":false,"title":null,"tickSize":-5,"domain":false}},
"y":{"datum":405,"type":"quantitative","axis":{"orient":"right","values":[0.1,0.2,0.3,0.4,0.5,0.6,0.7,0.8,0.9,1,2,3,4,5,6,7,8,9,10,20,30,40,50,60,70,80,90,100,200,300,400,500,600,700,800,900,1000],"labels":false,"title":null,"domain":false,"tickSize":{"condition":{"test":"indexof([0.1,1,10,100,1000], datum.value) >= 0","value":-5},"value":-3}}},
"text":{"value":"Vector-IM models for M = 7.5"}}}
],
"resolve":{"axis":{"x":"independent","y":"independent"}}}
]
}
